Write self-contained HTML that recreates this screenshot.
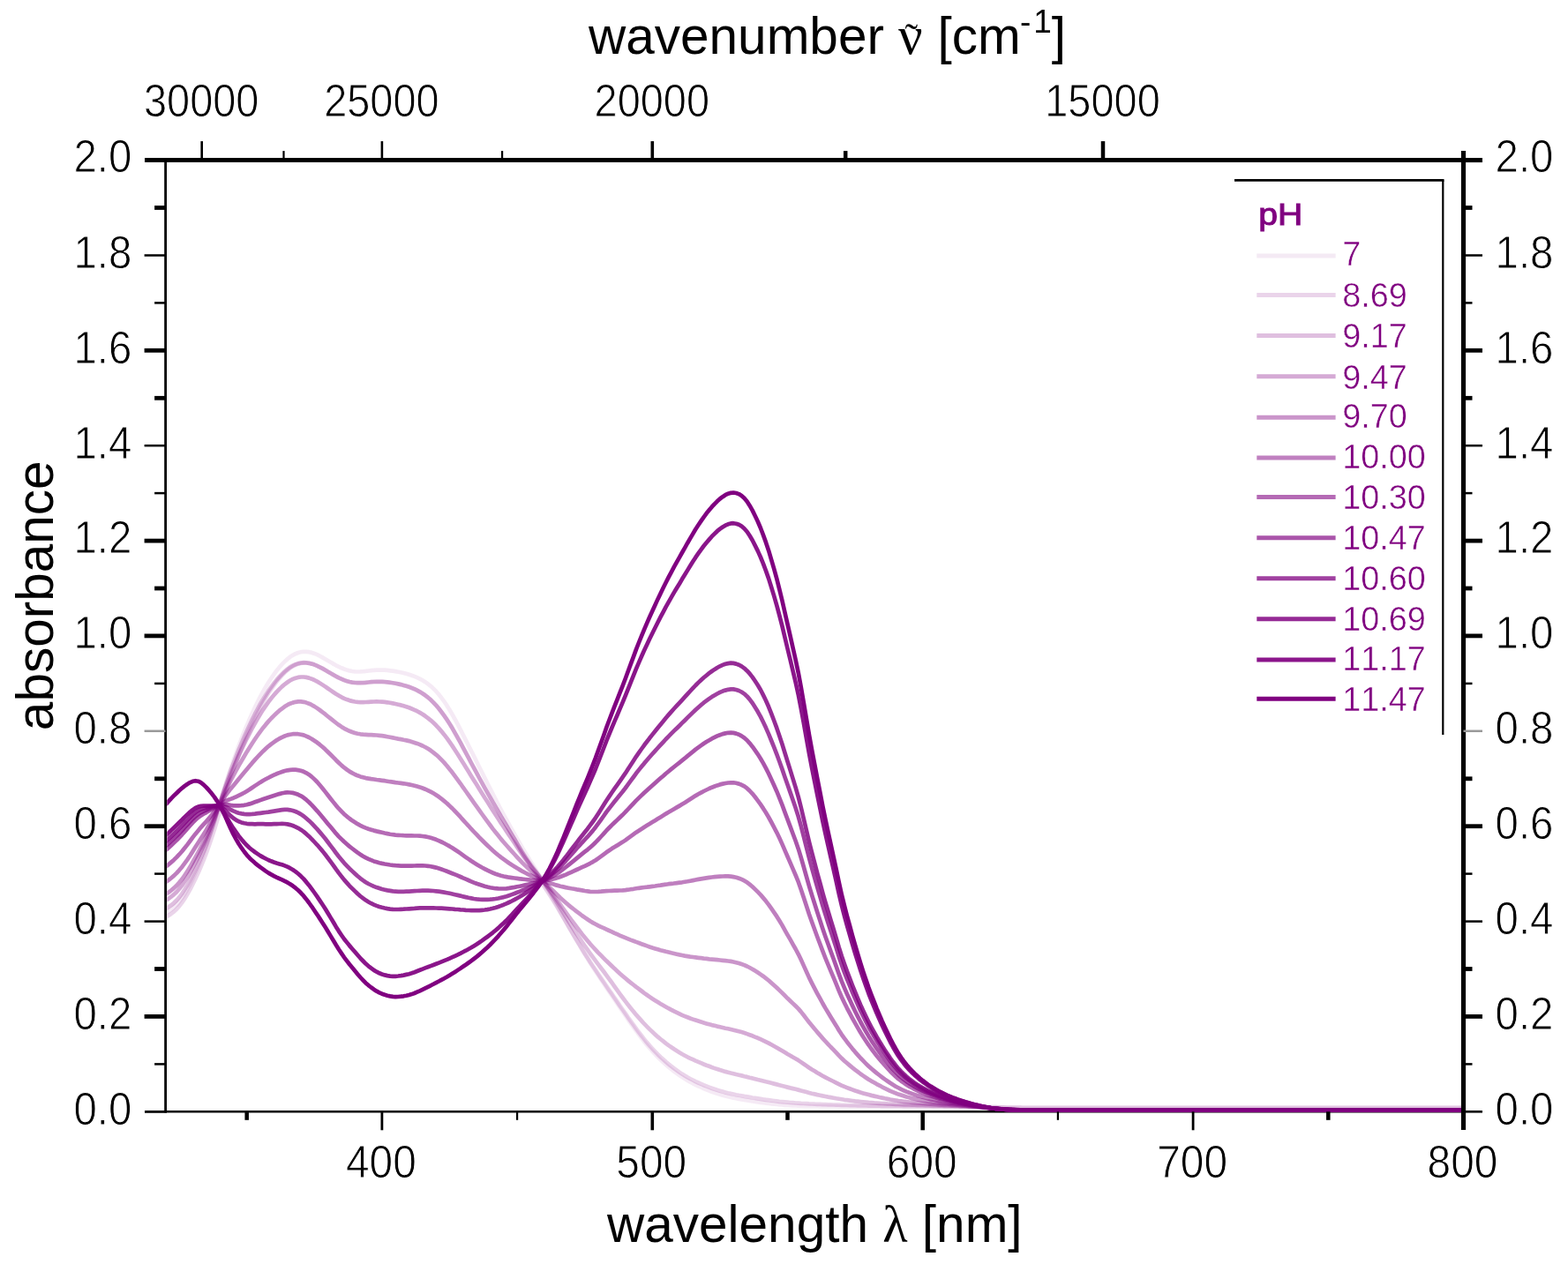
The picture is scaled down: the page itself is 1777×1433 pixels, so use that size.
<!DOCTYPE html>
<html lang="en"><head><meta charset="utf-8"><title>UV/Vis absorbance spectra vs pH</title>
<style>html,body{margin:0;padding:0;background:#fff}body{width:1777px;height:1433px;overflow:hidden}svg{display:block}text{font-family:"Liberation Sans",sans-serif;fill:#000;font-kerning:none}.tk{font-size:47.4px;stroke:#fff;stroke-width:0.8px}.ti{font-size:58.5px}.lg{font-size:37.8px;fill:#800080;stroke:#fff;stroke-width:0.5px}.sf{font-family:"Liberation Serif",serif}</style></head><body>
<svg width="1777" height="1433" viewBox="0 0 1777 1433">
<rect width="1777" height="1433" fill="#fff"/>
<line x1="164" y1="1260.3" x2="1658.5" y2="1260.3" stroke="#000" stroke-width="2.6"/>
<defs><clipPath id="pc"><rect x="189.3" y="170" width="1466.7" height="1100"/></clipPath></defs>
<g fill="none" stroke="#800080" stroke-width="4.7" stroke-linejoin="round" stroke-linecap="butt" clip-path="url(#pc)">
<path stroke-opacity="0.083" d="M187.8 1035.1 L190.9 1033.4 L193.9 1031.3 L197.0 1028.8 L200.1 1025.9 L203.1 1022.4 L206.2 1018.4 L209.2 1013.7 L212.3 1008.5 L215.4 1002.8 L218.4 996.7 L221.5 990.1 L224.6 983.2 L227.6 975.9 L230.7 968.3 L233.8 960.1 L236.8 951.3 L239.9 941.9 L243.0 931.9 L246.0 921.6 L249.1 911.0 L252.1 900.6 L255.2 890.5 L258.3 880.8 L261.3 871.5 L264.4 862.6 L267.5 854.0 L270.5 845.7 L273.6 837.7 L276.7 830.0 L279.7 822.6 L282.8 815.5 L285.8 808.7 L288.9 802.1 L292.0 795.8 L295.0 789.8 L298.1 784.1 L301.2 778.8 L304.2 773.7 L307.3 769.0 L310.4 764.6 L313.4 760.5 L316.5 756.6 L319.6 753.2 L322.6 750.0 L325.7 747.2 L328.7 744.8 L331.8 742.8 L334.9 741.2 L337.9 740.0 L341.0 739.2 L344.1 738.8 L347.1 738.8 L350.2 739.2 L353.3 739.9 L356.3 740.9 L359.4 742.2 L362.4 743.7 L365.5 745.4 L368.6 747.2 L371.6 749.0 L374.7 750.8 L377.8 752.6 L380.8 754.3 L383.9 755.9 L387.0 757.3 L390.0 758.5 L393.1 759.6 L396.1 760.4 L399.2 761.0 L402.3 761.3 L405.3 761.5 L408.4 761.4 L411.5 761.2 L414.5 760.9 L417.6 760.5 L420.7 760.2 L423.7 759.9 L426.8 759.7 L429.9 759.6 L432.9 759.6 L436.0 759.7 L439.0 759.9 L442.1 760.3 L445.2 760.7 L448.2 761.1 L451.3 761.7 L454.4 762.3 L457.4 763.0 L460.5 763.8 L463.6 764.7 L466.6 765.7 L469.7 766.9 L472.7 768.2 L475.8 769.6 L478.9 771.3 L481.9 773.2 L485.0 775.4 L488.1 777.8 L491.1 780.6 L494.2 783.7 L497.3 787.2 L500.3 791.1 L503.4 795.3 L506.5 799.9 L509.5 804.8 L512.6 810.0 L515.6 815.5 L518.7 821.2 L521.8 827.1 L524.8 833.1 L527.9 839.1 L531.0 845.2 L534.0 851.3 L537.1 857.4 L540.2 863.5 L543.2 869.7 L546.3 875.8 L549.3 881.9 L552.4 888.0 L555.5 894.1 L558.5 900.1 L561.6 906.1 L564.7 912.0 L567.7 917.8 L570.8 923.5 L573.9 929.1 L576.9 934.6 L580.0 940.1 L583.1 945.6 L586.1 951.0 L589.2 956.3 L592.2 961.6 L595.3 966.8 L598.4 971.8 L601.4 976.7 L604.5 981.6 L607.6 986.4 L610.6 991.2 L613.7 996.1 L616.8 1001.1 L619.8 1006.2 L622.9 1011.4 L625.9 1016.8 L629.0 1022.3 L632.1 1027.8 L635.1 1033.4 L638.2 1039.0 L641.3 1044.6 L644.3 1050.1 L647.4 1055.6 L650.5 1061.0 L653.5 1066.4 L656.6 1071.6 L659.6 1076.8 L662.7 1081.8 L665.8 1086.8 L668.8 1091.7 L671.9 1096.5 L675.0 1101.2 L678.0 1105.8 L681.1 1110.4 L684.2 1115.0 L687.2 1119.6 L690.3 1124.1 L693.4 1128.6 L696.4 1133.2 L699.5 1137.7 L702.5 1142.2 L705.6 1146.7 L708.7 1151.2 L711.7 1155.6 L714.8 1160.1 L717.9 1164.4 L720.9 1168.7 L724.0 1172.9 L727.1 1177.0 L730.1 1180.9 L733.2 1184.7 L736.2 1188.3 L739.3 1191.8 L742.4 1195.1 L745.4 1198.3 L748.5 1201.4 L751.6 1204.3 L754.6 1207.0 L757.7 1209.7 L760.8 1212.2 L763.8 1214.6 L766.9 1216.9 L770.0 1219.1 L773.0 1221.1 L776.1 1223.1 L779.1 1224.9 L782.2 1226.6 L785.3 1228.3 L788.3 1229.8 L791.4 1231.3 L794.5 1232.7 L797.5 1234.0 L800.6 1235.3 L803.7 1236.5 L806.7 1237.7 L809.8 1238.8 L812.8 1239.8 L815.9 1240.8 L819.0 1241.7 L822.0 1242.5 L825.1 1243.3 L828.2 1244.0 L831.2 1244.7 L834.3 1245.3 L837.4 1245.9 L840.4 1246.4 L843.5 1247.0 L846.6 1247.5 L849.6 1248.0 L852.7 1248.5 L855.7 1248.9 L858.8 1249.4 L861.9 1249.8 L864.9 1250.2 L868.0 1250.6 L871.1 1251.0 L874.1 1251.3 L877.2 1251.7 L880.3 1252.0 L883.3 1252.3 L886.4 1252.5 L889.4 1252.8 L892.5 1253.0 L895.6 1253.2 L898.6 1253.3 L901.7 1253.5 L904.8 1253.6 L907.8 1253.7 L910.9 1253.8 L914.0 1253.9 L917.0 1253.9 L920.1 1254.0 L923.2 1254.0 L926.2 1254.0 L929.3 1254.1 L932.3 1254.1 L935.4 1254.1 L938.5 1254.2 L941.5 1254.2 L944.6 1254.2 L947.7 1254.2 L950.7 1254.3 L953.8 1254.3 L956.9 1254.3 L959.9 1254.3 L963.0 1254.3 L966.0 1254.3 L969.1 1254.3 L972.2 1254.3 L975.2 1254.4 L978.3 1254.4 L981.4 1254.4 L984.4 1254.4 L987.5 1254.4 L990.6 1254.4 L993.6 1254.4 L996.7 1254.4 L999.7 1254.4 L1002.8 1254.4 L1005.9 1254.4 L1008.9 1254.4 L1012.0 1254.4 L1015.1 1254.4 L1018.1 1254.4 L1021.2 1254.4 L1024.3 1254.4 L1027.3 1254.4 L1030.4 1254.4 L1033.5 1254.4 L1036.5 1254.4 L1039.6 1254.4 L1042.6 1254.4 L1045.7 1254.4 L1048.8 1254.4 L1051.8 1254.4 L1054.9 1254.4 L1058.0 1254.4 L1061.0 1254.4 L1064.1 1254.4 L1067.2 1254.4 L1070.2 1254.4 L1073.3 1254.4 L1076.3 1254.4 L1079.4 1254.4 L1082.5 1254.4 L1085.5 1254.4 L1088.6 1254.5 L1091.7 1254.5 L1094.7 1254.5 L1097.8 1254.5 L1100.9 1254.6 L1103.9 1254.6 L1107.0 1254.7 L1110.1 1254.7 L1113.1 1254.8 L1116.2 1254.9 L1119.2 1255.0 L1122.3 1255.0 L1125.4 1255.1 L1128.4 1255.2 L1131.5 1255.3 L1134.6 1255.4 L1137.6 1255.4 L1140.7 1255.5 L1143.8 1255.6 L1146.8 1255.6 L1149.9 1255.7 L1152.9 1255.7 L1156.0 1255.7 L1159.1 1255.8 L1162.1 1255.8 L1165.2 1255.8 L1168.3 1255.8 L1171.3 1255.8 L1174.4 1255.8 L1177.5 1255.8 L1180.5 1255.9 L1183.6 1255.9 L1186.7 1255.9 L1189.7 1255.9 L1192.8 1255.9 L1195.8 1255.9 L1198.9 1255.9 L1202.0 1255.9 L1205.0 1255.9 L1208.1 1255.9 L1211.2 1255.9 L1214.2 1255.9 L1217.3 1255.9 L1220.4 1255.9 L1223.4 1255.9 L1226.5 1255.9 L1229.5 1255.9 L1290.8 1255.9 L1352.1 1255.9 L1413.4 1255.9 L1474.7 1255.9 L1535.9 1255.9 L1597.2 1255.9 L1658.5 1255.9"/>
<path stroke-opacity="0.167" d="M187.8 1039.7 L190.9 1038.0 L193.9 1036.0 L197.0 1033.6 L200.1 1030.7 L203.1 1027.4 L206.2 1023.4 L209.2 1019.0 L212.3 1013.9 L215.4 1008.4 L218.4 1002.4 L221.5 996.1 L224.6 989.5 L227.6 982.5 L230.7 975.1 L233.8 967.2 L236.8 958.8 L239.9 949.8 L243.0 940.2 L246.0 930.2 L249.1 920.1 L252.1 909.9 L255.2 900.1 L258.3 890.6 L261.3 881.5 L264.4 872.8 L267.5 864.4 L270.5 856.4 L273.6 848.5 L276.7 841.0 L279.7 833.8 L282.8 826.8 L285.8 820.1 L288.9 813.7 L292.0 807.5 L295.0 801.6 L298.1 796.0 L301.2 790.8 L304.2 785.8 L307.3 781.2 L310.4 776.8 L313.4 772.8 L316.5 769.1 L319.6 765.6 L322.6 762.5 L325.7 759.8 L328.7 757.4 L331.8 755.4 L334.9 753.8 L337.9 752.6 L341.0 751.9 L344.1 751.5 L347.1 751.5 L350.2 751.9 L353.3 752.6 L356.3 753.6 L359.4 754.8 L362.4 756.3 L365.5 757.9 L368.6 759.6 L371.6 761.4 L374.7 763.3 L377.8 765.0 L380.8 766.7 L383.9 768.3 L387.0 769.7 L390.0 771.0 L393.1 772.1 L396.1 773.0 L399.2 773.6 L402.3 774.0 L405.3 774.2 L408.4 774.2 L411.5 774.0 L414.5 773.8 L417.6 773.5 L420.7 773.2 L423.7 772.9 L426.8 772.8 L429.9 772.8 L432.9 772.8 L436.0 773.0 L439.0 773.3 L442.1 773.7 L445.2 774.2 L448.2 774.8 L451.3 775.4 L454.4 776.1 L457.4 776.9 L460.5 777.8 L463.6 778.8 L466.6 779.9 L469.7 781.2 L472.7 782.7 L475.8 784.3 L478.9 786.2 L481.9 788.3 L485.0 790.7 L488.1 793.3 L491.1 796.3 L494.2 799.6 L497.3 803.2 L500.3 807.1 L503.4 811.4 L506.5 815.8 L509.5 820.6 L512.6 825.6 L515.6 830.8 L518.7 836.3 L521.8 841.9 L524.8 847.6 L527.9 853.4 L531.0 859.2 L534.0 864.9 L537.1 870.7 L540.2 876.4 L543.2 882.0 L546.3 887.6 L549.3 893.1 L552.4 898.6 L555.5 904.0 L558.5 909.4 L561.6 914.8 L564.7 920.1 L567.7 925.3 L570.8 930.5 L573.9 935.7 L576.9 940.9 L580.0 946.2 L583.1 951.5 L586.1 956.7 L589.2 962.0 L592.2 967.1 L595.3 972.2 L598.4 977.2 L601.4 982.0 L604.5 986.7 L607.6 991.3 L610.6 995.9 L613.7 1000.5 L616.8 1005.0 L619.8 1009.7 L622.9 1014.5 L625.9 1019.3 L629.0 1024.3 L632.1 1029.4 L635.1 1034.6 L638.2 1039.8 L641.3 1045.0 L644.3 1050.3 L647.4 1055.5 L650.5 1060.7 L653.5 1065.8 L656.6 1070.9 L659.6 1075.9 L662.7 1080.9 L665.8 1085.7 L668.8 1090.5 L671.9 1095.2 L675.0 1099.8 L678.0 1104.3 L681.1 1108.9 L684.2 1113.3 L687.2 1117.8 L690.3 1122.3 L693.4 1126.7 L696.4 1131.2 L699.5 1135.6 L702.5 1140.1 L705.6 1144.5 L708.7 1148.9 L711.7 1153.3 L714.8 1157.6 L717.9 1161.9 L720.9 1166.1 L724.0 1170.3 L727.1 1174.3 L730.1 1178.1 L733.2 1181.9 L736.2 1185.4 L739.3 1188.8 L742.4 1192.1 L745.4 1195.2 L748.5 1198.2 L751.6 1201.0 L754.6 1203.8 L757.7 1206.4 L760.8 1208.8 L763.8 1211.2 L766.9 1213.4 L770.0 1215.6 L773.0 1217.6 L776.1 1219.5 L779.1 1221.3 L782.2 1223.0 L785.3 1224.5 L788.3 1226.1 L791.4 1227.5 L794.5 1228.9 L797.5 1230.2 L800.6 1231.4 L803.7 1232.6 L806.7 1233.7 L809.8 1234.8 L812.8 1235.8 L815.9 1236.7 L819.0 1237.6 L822.0 1238.4 L825.1 1239.2 L828.2 1239.9 L831.2 1240.5 L834.3 1241.2 L837.4 1241.8 L840.4 1242.3 L843.5 1242.9 L846.6 1243.4 L849.6 1243.9 L852.7 1244.5 L855.7 1244.9 L858.8 1245.4 L861.9 1245.9 L864.9 1246.4 L868.0 1246.8 L871.1 1247.2 L874.1 1247.6 L877.2 1248.0 L880.3 1248.4 L883.3 1248.8 L886.4 1249.1 L889.4 1249.4 L892.5 1249.7 L895.6 1250.0 L898.6 1250.2 L901.7 1250.5 L904.8 1250.7 L907.8 1250.9 L910.9 1251.0 L914.0 1251.2 L917.0 1251.4 L920.1 1251.5 L923.2 1251.7 L926.2 1251.8 L929.3 1251.9 L932.3 1252.1 L935.4 1252.2 L938.5 1252.3 L941.5 1252.4 L944.6 1252.5 L947.7 1252.6 L950.7 1252.7 L953.8 1252.8 L956.9 1252.9 L959.9 1253.0 L963.0 1253.1 L966.0 1253.2 L969.1 1253.2 L972.2 1253.3 L975.2 1253.4 L978.3 1253.4 L981.4 1253.5 L984.4 1253.6 L987.5 1253.6 L990.6 1253.7 L993.6 1253.7 L996.7 1253.7 L999.7 1253.8 L1002.8 1253.8 L1005.9 1253.9 L1008.9 1253.9 L1012.0 1253.9 L1015.1 1254.0 L1018.1 1254.0 L1021.2 1254.0 L1024.3 1254.1 L1027.3 1254.1 L1030.4 1254.1 L1033.5 1254.1 L1036.5 1254.1 L1039.6 1254.2 L1042.6 1254.2 L1045.7 1254.2 L1048.8 1254.2 L1051.8 1254.2 L1054.9 1254.2 L1058.0 1254.3 L1061.0 1254.3 L1064.1 1254.3 L1067.2 1254.3 L1070.2 1254.3 L1073.3 1254.3 L1076.3 1254.3 L1079.4 1254.4 L1082.5 1254.4 L1085.5 1254.4 L1088.6 1254.4 L1091.7 1254.5 L1094.7 1254.5 L1097.8 1254.5 L1100.9 1254.6 L1103.9 1254.6 L1107.0 1254.7 L1110.1 1254.7 L1113.1 1254.8 L1116.2 1254.9 L1119.2 1255.0 L1122.3 1255.0 L1125.4 1255.1 L1128.4 1255.2 L1131.5 1255.3 L1134.6 1255.4 L1137.6 1255.4 L1140.7 1255.5 L1143.8 1255.6 L1146.8 1255.6 L1149.9 1255.7 L1152.9 1255.7 L1156.0 1255.7 L1159.1 1255.8 L1162.1 1255.8 L1165.2 1255.8 L1168.3 1255.8 L1171.3 1255.8 L1174.4 1255.8 L1177.5 1255.8 L1180.5 1255.9 L1183.6 1255.9 L1186.7 1255.9 L1189.7 1255.9 L1192.8 1255.9 L1195.8 1255.9 L1198.9 1255.9 L1202.0 1255.9 L1205.0 1255.9 L1208.1 1255.9 L1211.2 1255.9 L1214.2 1255.9 L1217.3 1255.9 L1220.4 1255.9 L1223.4 1255.9 L1226.5 1255.9 L1229.5 1255.9 L1290.8 1255.9 L1352.1 1255.9 L1413.4 1255.9 L1474.7 1255.9 L1535.9 1255.9 L1597.2 1255.9 L1658.5 1255.9"/>
<path stroke-opacity="0.250" d="M187.8 1030.2 L190.9 1028.4 L193.9 1026.3 L197.0 1023.8 L200.1 1020.8 L203.1 1017.4 L206.2 1013.4 L209.2 1008.8 L212.3 1003.8 L215.4 998.2 L218.4 992.2 L221.5 985.9 L224.6 979.3 L227.6 972.4 L230.7 965.1 L233.8 957.4 L236.8 949.1 L239.9 940.2 L243.0 930.8 L246.0 921.0 L249.1 911.1 L252.1 901.4 L255.2 891.9 L258.3 882.9 L261.3 874.3 L264.4 866.0 L267.5 858.0 L270.5 850.3 L273.6 842.9 L276.7 835.7 L279.7 828.9 L282.8 822.2 L285.8 815.9 L288.9 809.7 L292.0 803.9 L295.0 798.2 L298.1 792.9 L301.2 787.9 L304.2 783.2 L307.3 778.8 L310.4 774.7 L313.4 770.9 L316.5 767.4 L319.6 764.1 L322.6 761.2 L325.7 758.6 L328.7 756.4 L331.8 754.6 L334.9 753.2 L337.9 752.1 L341.0 751.5 L344.1 751.2 L347.1 751.4 L350.2 751.8 L353.3 752.6 L356.3 753.6 L359.4 754.9 L362.4 756.3 L365.5 757.9 L368.6 759.7 L371.6 761.5 L374.7 763.3 L377.8 765.1 L380.8 766.8 L383.9 768.4 L387.0 769.8 L390.0 771.1 L393.1 772.2 L396.1 773.0 L399.2 773.6 L402.3 774.0 L405.3 774.2 L408.4 774.2 L411.5 774.1 L414.5 773.8 L417.6 773.5 L420.7 773.2 L423.7 773.0 L426.8 772.9 L429.9 772.8 L432.9 772.9 L436.0 773.1 L439.0 773.4 L442.1 773.8 L445.2 774.3 L448.2 774.8 L451.3 775.4 L454.4 776.1 L457.4 776.9 L460.5 777.8 L463.6 778.8 L466.6 780.0 L469.7 781.2 L472.7 782.7 L475.8 784.3 L478.9 786.2 L481.9 788.3 L485.0 790.7 L488.1 793.3 L491.1 796.3 L494.2 799.6 L497.3 803.3 L500.3 807.2 L503.4 811.4 L506.5 815.9 L509.5 820.6 L512.6 825.6 L515.6 830.8 L518.7 836.3 L521.8 841.9 L524.8 847.6 L527.9 853.4 L531.0 859.2 L534.0 865.0 L537.1 870.7 L540.2 876.4 L543.2 882.0 L546.3 887.6 L549.3 893.1 L552.4 898.6 L555.5 904.1 L558.5 909.5 L561.6 914.8 L564.7 920.1 L567.7 925.4 L570.8 930.6 L573.9 935.8 L576.9 940.9 L580.0 946.1 L583.1 951.3 L586.1 956.5 L589.2 961.6 L592.2 966.6 L595.3 971.3 L598.4 975.9 L601.4 980.2 L604.5 984.4 L607.6 988.5 L610.6 992.6 L613.7 996.8 L616.8 1001.1 L619.8 1005.6 L622.9 1010.2 L625.9 1014.9 L629.0 1019.8 L632.1 1024.7 L635.1 1029.6 L638.2 1034.6 L641.3 1039.5 L644.3 1044.4 L647.4 1049.2 L650.5 1054.0 L653.5 1058.7 L656.6 1063.3 L659.6 1067.9 L662.7 1072.3 L665.8 1076.7 L668.8 1081.0 L671.9 1085.2 L675.0 1089.3 L678.0 1093.4 L681.1 1097.5 L684.2 1101.5 L687.2 1105.6 L690.3 1109.8 L693.4 1114.0 L696.4 1118.3 L699.5 1122.6 L702.5 1126.8 L705.6 1131.0 L708.7 1135.1 L711.7 1139.1 L714.8 1142.9 L717.9 1146.7 L720.9 1150.4 L724.0 1153.9 L727.1 1157.3 L730.1 1160.7 L733.2 1163.8 L736.2 1166.9 L739.3 1169.8 L742.4 1172.7 L745.4 1175.4 L748.5 1178.0 L751.6 1180.4 L754.6 1182.8 L757.7 1185.1 L760.8 1187.2 L763.8 1189.3 L766.9 1191.3 L770.0 1193.2 L773.0 1195.0 L776.1 1196.7 L779.1 1198.3 L782.2 1199.8 L785.3 1201.2 L788.3 1202.6 L791.4 1203.9 L794.5 1205.2 L797.5 1206.5 L800.6 1207.7 L803.7 1208.8 L806.7 1210.0 L809.8 1211.1 L812.8 1212.1 L815.9 1213.1 L819.0 1214.0 L822.0 1214.9 L825.1 1215.7 L828.2 1216.5 L831.2 1217.2 L834.3 1218.0 L837.4 1218.7 L840.4 1219.4 L843.5 1220.2 L846.6 1220.9 L849.6 1221.7 L852.7 1222.4 L855.7 1223.2 L858.8 1224.0 L861.9 1224.7 L864.9 1225.5 L868.0 1226.3 L871.1 1227.0 L874.1 1227.8 L877.2 1228.6 L880.3 1229.4 L883.3 1230.2 L886.4 1231.0 L889.4 1231.8 L892.5 1232.6 L895.6 1233.4 L898.6 1234.1 L901.7 1234.8 L904.8 1235.6 L907.8 1236.4 L910.9 1237.2 L914.0 1238.1 L917.0 1238.9 L920.1 1239.7 L923.2 1240.4 L926.2 1241.1 L929.3 1241.7 L932.3 1242.4 L935.4 1243.0 L938.5 1243.6 L941.5 1244.1 L944.6 1244.7 L947.7 1245.3 L950.7 1245.8 L953.8 1246.3 L956.9 1246.8 L959.9 1247.2 L963.0 1247.6 L966.0 1248.0 L969.1 1248.4 L972.2 1248.7 L975.2 1249.0 L978.3 1249.3 L981.4 1249.6 L984.4 1249.9 L987.5 1250.1 L990.6 1250.4 L993.6 1250.6 L996.7 1250.8 L999.7 1251.0 L1002.8 1251.2 L1005.9 1251.4 L1008.9 1251.5 L1012.0 1251.7 L1015.1 1251.9 L1018.1 1252.0 L1021.2 1252.2 L1024.3 1252.3 L1027.3 1252.4 L1030.4 1252.5 L1033.5 1252.6 L1036.5 1252.7 L1039.6 1252.8 L1042.6 1252.9 L1045.7 1253.0 L1048.8 1253.1 L1051.8 1253.2 L1054.9 1253.3 L1058.0 1253.4 L1061.0 1253.5 L1064.1 1253.6 L1067.2 1253.7 L1070.2 1253.8 L1073.3 1253.9 L1076.3 1253.9 L1079.4 1254.0 L1082.5 1254.1 L1085.5 1254.2 L1088.6 1254.3 L1091.7 1254.4 L1094.7 1254.5 L1097.8 1254.7 L1100.9 1254.8 L1103.9 1255.0 L1107.0 1255.2 L1110.1 1255.3 L1113.1 1255.6 L1116.2 1255.8 L1119.2 1256.0 L1122.3 1256.3 L1125.4 1256.5 L1128.4 1256.8 L1131.5 1257.0 L1134.6 1257.2 L1137.6 1257.4 L1140.7 1257.6 L1143.8 1257.8 L1146.8 1257.9 L1149.9 1258.1 L1152.9 1258.2 L1156.0 1258.3 L1159.1 1258.3 L1162.1 1258.4 L1165.2 1258.5 L1168.3 1258.5 L1171.3 1258.5 L1174.4 1258.6 L1177.5 1258.6 L1180.5 1258.6 L1183.6 1258.6 L1186.7 1258.6 L1189.7 1258.6 L1192.8 1258.7 L1195.8 1258.7 L1198.9 1258.7 L1202.0 1258.7 L1205.0 1258.7 L1208.1 1258.7 L1211.2 1258.7 L1214.2 1258.7 L1217.3 1258.7 L1220.4 1258.7 L1223.4 1258.7 L1226.5 1258.7 L1229.5 1258.7 L1290.8 1258.7 L1352.1 1258.7 L1413.4 1258.7 L1474.7 1258.7 L1535.9 1258.7 L1597.2 1258.7 L1658.5 1258.7"/>
<path stroke-opacity="0.333" d="M187.8 1020.8 L190.9 1018.9 L193.9 1016.7 L197.0 1014.1 L200.1 1011.2 L203.1 1007.8 L206.2 1003.9 L209.2 999.5 L212.3 994.7 L215.4 989.4 L218.4 983.8 L221.5 977.9 L224.6 971.9 L227.6 965.6 L230.7 959.1 L233.8 952.2 L236.8 944.9 L239.9 937.0 L243.0 928.6 L246.0 920.0 L249.1 911.3 L252.1 902.4 L255.2 894.0 L258.3 885.9 L261.3 878.2 L264.4 870.8 L267.5 863.6 L270.5 856.7 L273.6 850.0 L276.7 843.6 L279.7 837.3 L282.8 831.3 L285.8 825.5 L288.9 820.0 L292.0 814.6 L295.0 809.5 L298.1 804.6 L301.2 800.1 L304.2 795.8 L307.3 791.8 L310.4 788.1 L313.4 784.6 L316.5 781.4 L319.6 778.4 L322.6 775.8 L325.7 773.5 L328.7 771.5 L331.8 769.9 L334.9 768.7 L337.9 767.9 L341.0 767.5 L344.1 767.5 L347.1 767.9 L350.2 768.6 L353.3 769.7 L356.3 771.0 L359.4 772.6 L362.4 774.4 L365.5 776.4 L368.6 778.4 L371.6 780.5 L374.7 782.6 L377.8 784.7 L380.8 786.7 L383.9 788.6 L387.0 790.3 L390.0 791.8 L393.1 793.1 L396.1 794.1 L399.2 794.9 L402.3 795.5 L405.3 795.9 L408.4 796.1 L411.5 796.1 L414.5 796.0 L417.6 795.8 L420.7 795.6 L423.7 795.5 L426.8 795.4 L429.9 795.5 L432.9 795.6 L436.0 795.9 L439.0 796.3 L442.1 796.8 L445.2 797.4 L448.2 798.0 L451.3 798.7 L454.4 799.4 L457.4 800.3 L460.5 801.2 L463.6 802.3 L466.6 803.5 L469.7 804.8 L472.7 806.2 L475.8 807.9 L478.9 809.7 L481.9 811.8 L485.0 814.1 L488.1 816.6 L491.1 819.3 L494.2 822.3 L497.3 825.6 L500.3 829.1 L503.4 832.9 L506.5 836.9 L509.5 841.1 L512.6 845.6 L515.6 850.2 L518.7 855.0 L521.8 859.9 L524.8 864.8 L527.9 869.8 L531.0 874.8 L534.0 879.7 L537.1 884.7 L540.2 889.6 L543.2 894.5 L546.3 899.4 L549.3 904.3 L552.4 909.1 L555.5 914.0 L558.5 918.8 L561.6 923.6 L564.7 928.3 L567.7 932.9 L570.8 937.5 L573.9 942.1 L576.9 946.6 L580.0 951.2 L583.1 955.8 L586.1 960.4 L589.2 964.9 L592.2 969.3 L595.3 973.6 L598.4 977.7 L601.4 981.7 L604.5 985.5 L607.6 989.3 L610.6 993.0 L613.7 996.9 L616.8 1000.7 L619.8 1004.7 L622.9 1008.7 L625.9 1012.9 L629.0 1017.1 L632.1 1021.4 L635.1 1025.7 L638.2 1030.0 L641.3 1034.3 L644.3 1038.6 L647.4 1042.8 L650.5 1047.0 L653.5 1051.0 L656.6 1055.0 L659.6 1058.9 L662.7 1062.7 L665.8 1066.5 L668.8 1070.1 L671.9 1073.5 L675.0 1076.9 L678.0 1080.1 L681.1 1083.2 L684.2 1086.3 L687.2 1089.3 L690.3 1092.2 L693.4 1095.2 L696.4 1098.1 L699.5 1100.9 L702.5 1103.7 L705.6 1106.4 L708.7 1109.1 L711.7 1111.6 L714.8 1114.1 L717.9 1116.5 L720.9 1118.9 L724.0 1121.2 L727.1 1123.5 L730.1 1125.8 L733.2 1128.0 L736.2 1130.1 L739.3 1132.2 L742.4 1134.2 L745.4 1136.1 L748.5 1138.0 L751.6 1139.8 L754.6 1141.5 L757.7 1143.2 L760.8 1144.8 L763.8 1146.4 L766.9 1147.9 L770.0 1149.4 L773.0 1150.8 L776.1 1152.1 L779.1 1153.3 L782.2 1154.5 L785.3 1155.6 L788.3 1156.6 L791.4 1157.6 L794.5 1158.6 L797.5 1159.5 L800.6 1160.4 L803.7 1161.3 L806.7 1162.1 L809.8 1162.8 L812.8 1163.6 L815.9 1164.3 L819.0 1165.0 L822.0 1165.7 L825.1 1166.3 L828.2 1167.0 L831.2 1167.7 L834.3 1168.5 L837.4 1169.3 L840.4 1170.1 L843.5 1171.0 L846.6 1172.1 L849.6 1173.2 L852.7 1174.3 L855.7 1175.6 L858.8 1176.8 L861.9 1178.2 L864.9 1179.6 L868.0 1181.1 L871.1 1182.6 L874.1 1184.3 L877.2 1186.0 L880.3 1187.7 L883.3 1189.5 L886.4 1191.3 L889.4 1193.1 L892.5 1195.0 L895.6 1196.7 L898.6 1198.5 L901.7 1200.2 L904.8 1202.1 L907.8 1204.1 L910.9 1206.2 L914.0 1208.4 L917.0 1210.5 L920.1 1212.5 L923.2 1214.3 L926.2 1216.2 L929.3 1217.9 L932.3 1219.7 L935.4 1221.4 L938.5 1223.0 L941.5 1224.5 L944.6 1226.0 L947.7 1227.6 L950.7 1229.1 L953.8 1230.6 L956.9 1231.9 L959.9 1233.1 L963.0 1234.3 L966.0 1235.4 L969.1 1236.5 L972.2 1237.5 L975.2 1238.5 L978.3 1239.4 L981.4 1240.3 L984.4 1241.1 L987.5 1241.9 L990.6 1242.6 L993.6 1243.3 L996.7 1244.0 L999.7 1244.6 L1002.8 1245.3 L1005.9 1245.9 L1008.9 1246.5 L1012.0 1247.0 L1015.1 1247.5 L1018.1 1248.0 L1021.2 1248.4 L1024.3 1248.8 L1027.3 1249.2 L1030.4 1249.5 L1033.5 1249.8 L1036.5 1250.1 L1039.6 1250.4 L1042.6 1250.7 L1045.7 1251.0 L1048.8 1251.2 L1051.8 1251.5 L1054.9 1251.7 L1058.0 1252.0 L1061.0 1252.2 L1064.1 1252.4 L1067.2 1252.6 L1070.2 1252.8 L1073.3 1253.0 L1076.3 1253.1 L1079.4 1253.3 L1082.5 1253.5 L1085.5 1253.6 L1088.6 1253.8 L1091.7 1254.0 L1094.7 1254.2 L1097.8 1254.3 L1100.9 1254.5 L1103.9 1254.8 L1107.0 1255.0 L1110.1 1255.2 L1113.1 1255.5 L1116.2 1255.7 L1119.2 1256.0 L1122.3 1256.2 L1125.4 1256.5 L1128.4 1256.8 L1131.5 1257.0 L1134.6 1257.2 L1137.6 1257.5 L1140.7 1257.7 L1143.8 1257.8 L1146.8 1258.0 L1149.9 1258.1 L1152.9 1258.2 L1156.0 1258.3 L1159.1 1258.4 L1162.1 1258.4 L1165.2 1258.5 L1168.3 1258.5 L1171.3 1258.5 L1174.4 1258.6 L1177.5 1258.6 L1180.5 1258.6 L1183.6 1258.6 L1186.7 1258.6 L1189.7 1258.6 L1192.8 1258.7 L1195.8 1258.7 L1198.9 1258.7 L1202.0 1258.7 L1205.0 1258.7 L1208.1 1258.7 L1211.2 1258.7 L1214.2 1258.7 L1217.3 1258.7 L1220.4 1258.7 L1223.4 1258.7 L1226.5 1258.7 L1229.5 1258.7 L1290.8 1258.7 L1352.1 1258.7 L1413.4 1258.7 L1474.7 1258.7 L1535.9 1258.7 L1597.2 1258.7 L1658.5 1258.7"/>
<path stroke-opacity="0.417" d="M187.8 1013.8 L190.9 1011.8 L193.9 1009.5 L197.0 1006.9 L200.1 1004.0 L203.1 1000.6 L206.2 996.8 L209.2 992.5 L212.3 987.9 L215.4 982.8 L218.4 977.5 L221.5 972.0 L224.6 966.3 L227.6 960.6 L230.7 954.7 L233.8 948.4 L236.8 941.7 L239.9 934.6 L243.0 927.0 L246.0 919.2 L249.1 911.5 L252.1 904.4 L255.2 897.6 L258.3 891.2 L261.3 885.2 L264.4 879.4 L267.5 873.7 L270.5 868.1 L273.6 862.8 L276.7 857.5 L279.7 852.4 L282.8 847.5 L285.8 842.7 L288.9 838.0 L292.0 833.5 L295.0 829.3 L298.1 825.2 L301.2 821.4 L304.2 817.9 L307.3 814.5 L310.4 811.4 L313.4 808.5 L316.5 805.7 L319.6 803.3 L322.6 801.1 L325.7 799.2 L328.7 797.7 L331.8 796.6 L334.9 795.8 L337.9 795.4 L341.0 795.4 L344.1 795.8 L347.1 796.6 L350.2 797.7 L353.3 799.2 L356.3 800.9 L359.4 802.9 L362.4 805.0 L365.5 807.3 L368.6 809.7 L371.6 812.2 L374.7 814.7 L377.8 817.2 L380.8 819.5 L383.9 821.8 L387.0 823.9 L390.0 825.8 L393.1 827.4 L396.1 828.8 L399.2 830.0 L402.3 831.0 L405.3 831.7 L408.4 832.3 L411.5 832.7 L414.5 832.9 L417.6 833.1 L420.7 833.2 L423.7 833.3 L426.8 833.5 L429.9 833.8 L432.9 834.2 L436.0 834.6 L439.0 835.2 L442.1 835.8 L445.2 836.4 L448.2 837.0 L451.3 837.6 L454.4 838.1 L457.4 838.8 L460.5 839.4 L463.6 840.1 L466.6 841.0 L469.7 841.9 L472.7 842.9 L475.8 844.1 L478.9 845.5 L481.9 847.0 L485.0 848.8 L488.1 850.8 L491.1 853.1 L494.2 855.6 L497.3 858.3 L500.3 861.4 L503.4 864.6 L506.5 868.2 L509.5 871.9 L512.6 875.8 L515.6 879.9 L518.7 884.1 L521.8 888.3 L524.8 892.7 L527.9 897.0 L531.0 901.4 L534.0 905.7 L537.1 910.1 L540.2 914.4 L543.2 918.7 L546.3 923.0 L549.3 927.2 L552.4 931.4 L555.5 935.5 L558.5 939.6 L561.6 943.5 L564.7 947.3 L567.7 951.1 L570.8 954.7 L573.9 958.2 L576.9 961.6 L580.0 965.1 L583.1 968.5 L586.1 971.8 L589.2 975.1 L592.2 978.3 L595.3 981.4 L598.4 984.3 L601.4 987.0 L604.5 989.7 L607.6 992.3 L610.6 995.0 L613.7 997.8 L616.8 1000.5 L619.8 1003.2 L622.9 1006.1 L625.9 1009.0 L629.0 1012.0 L632.1 1015.0 L635.1 1017.9 L638.2 1020.7 L641.3 1023.4 L644.3 1026.1 L647.4 1028.6 L650.5 1031.0 L653.5 1033.4 L656.6 1035.7 L659.6 1038.0 L662.7 1040.2 L665.8 1042.3 L668.8 1044.3 L671.9 1046.1 L675.0 1047.8 L678.0 1049.4 L681.1 1050.9 L684.2 1052.2 L687.2 1053.6 L690.3 1055.0 L693.4 1056.3 L696.4 1057.8 L699.5 1059.2 L702.5 1060.6 L705.6 1061.9 L708.7 1063.2 L711.7 1064.4 L714.8 1065.6 L717.9 1066.7 L720.9 1067.9 L724.0 1069.0 L727.1 1070.2 L730.1 1071.3 L733.2 1072.4 L736.2 1073.5 L739.3 1074.5 L742.4 1075.4 L745.4 1076.3 L748.5 1077.2 L751.6 1078.0 L754.6 1078.8 L757.7 1079.5 L760.8 1080.3 L763.8 1081.0 L766.9 1081.7 L770.0 1082.4 L773.0 1083.0 L776.1 1083.6 L779.1 1084.1 L782.2 1084.6 L785.3 1085.0 L788.3 1085.4 L791.4 1085.8 L794.5 1086.2 L797.5 1086.6 L800.6 1086.9 L803.7 1087.3 L806.7 1087.6 L809.8 1087.9 L812.8 1088.2 L815.9 1088.5 L819.0 1088.8 L822.0 1089.1 L825.1 1089.5 L828.2 1089.9 L831.2 1090.5 L834.3 1091.2 L837.4 1092.0 L840.4 1093.0 L843.5 1094.1 L846.6 1095.5 L849.6 1097.0 L852.7 1098.7 L855.7 1100.6 L858.8 1102.5 L861.9 1104.6 L864.9 1106.7 L868.0 1109.1 L871.1 1111.5 L874.1 1114.2 L877.2 1116.9 L880.3 1119.7 L883.3 1122.6 L886.4 1125.6 L889.4 1128.7 L892.5 1131.8 L895.6 1134.7 L898.6 1137.6 L901.7 1140.5 L904.8 1143.6 L907.8 1147.1 L910.9 1151.0 L914.0 1155.1 L917.0 1159.0 L920.1 1162.8 L923.2 1166.5 L926.2 1170.1 L929.3 1173.6 L932.3 1177.1 L935.4 1180.5 L938.5 1183.8 L941.5 1187.0 L944.6 1190.1 L947.7 1193.4 L950.7 1196.7 L953.8 1199.8 L956.9 1202.7 L959.9 1205.3 L963.0 1207.9 L966.0 1210.4 L969.1 1212.8 L972.2 1215.2 L975.2 1217.5 L978.3 1219.6 L981.4 1221.7 L984.4 1223.7 L987.5 1225.6 L990.6 1227.3 L993.6 1229.1 L996.7 1230.7 L999.7 1232.3 L1002.8 1233.8 L1005.9 1235.3 L1008.9 1236.8 L1012.0 1238.1 L1015.1 1239.4 L1018.1 1240.6 L1021.2 1241.6 L1024.3 1242.6 L1027.3 1243.5 L1030.4 1244.3 L1033.5 1245.1 L1036.5 1245.8 L1039.6 1246.4 L1042.6 1247.0 L1045.7 1247.6 L1048.8 1248.2 L1051.8 1248.7 L1054.9 1249.1 L1058.0 1249.6 L1061.0 1250.0 L1064.1 1250.4 L1067.2 1250.8 L1070.2 1251.1 L1073.3 1251.5 L1076.3 1251.8 L1079.4 1252.1 L1082.5 1252.4 L1085.5 1252.7 L1088.6 1253.0 L1091.7 1253.3 L1094.7 1253.5 L1097.8 1253.8 L1100.9 1254.1 L1103.9 1254.4 L1107.0 1254.7 L1110.1 1255.0 L1113.1 1255.3 L1116.2 1255.6 L1119.2 1255.9 L1122.3 1256.2 L1125.4 1256.5 L1128.4 1256.8 L1131.5 1257.0 L1134.6 1257.3 L1137.6 1257.5 L1140.7 1257.7 L1143.8 1257.9 L1146.8 1258.0 L1149.9 1258.1 L1152.9 1258.2 L1156.0 1258.3 L1159.1 1258.4 L1162.1 1258.4 L1165.2 1258.5 L1168.3 1258.5 L1171.3 1258.6 L1174.4 1258.6 L1177.5 1258.6 L1180.5 1258.6 L1183.6 1258.6 L1186.7 1258.6 L1189.7 1258.6 L1192.8 1258.7 L1195.8 1258.7 L1198.9 1258.7 L1202.0 1258.7 L1205.0 1258.7 L1208.1 1258.7 L1211.2 1258.7 L1214.2 1258.7 L1217.3 1258.7 L1220.4 1258.7 L1223.4 1258.7 L1226.5 1258.7 L1229.5 1258.7 L1290.8 1258.7 L1352.1 1258.7 L1413.4 1258.7 L1474.7 1258.7 L1535.9 1258.7 L1597.2 1258.7 L1658.5 1258.7"/>
<path stroke-opacity="0.500" d="M187.8 1000.1 L190.9 997.9 L193.9 995.5 L197.0 992.9 L200.1 989.9 L203.1 986.6 L206.2 982.9 L209.2 978.9 L212.3 974.6 L215.4 970.0 L218.4 965.2 L221.5 960.3 L224.6 955.5 L227.6 950.7 L230.7 945.9 L233.8 940.9 L236.8 935.6 L239.9 929.9 L243.0 923.9 L246.0 917.7 L249.1 911.8 L252.1 906.9 L255.2 902.4 L258.3 898.3 L261.3 894.4 L264.4 890.7 L267.5 886.9 L270.5 883.2 L273.6 879.5 L276.7 875.8 L279.7 872.2 L282.8 868.5 L285.8 864.9 L288.9 861.4 L292.0 858.0 L295.0 854.8 L298.1 851.7 L301.2 848.8 L304.2 846.1 L307.3 843.6 L310.4 841.4 L313.4 839.3 L316.5 837.4 L319.6 835.8 L322.6 834.5 L325.7 833.4 L328.7 832.7 L331.8 832.2 L334.9 832.1 L337.9 832.2 L341.0 832.7 L344.1 833.4 L347.1 834.6 L350.2 836.0 L353.3 837.7 L356.3 839.7 L359.4 841.8 L362.4 844.2 L365.5 846.8 L368.6 849.6 L371.6 852.5 L374.7 855.5 L377.8 858.6 L380.8 861.7 L383.9 864.7 L387.0 867.6 L390.0 870.2 L393.1 872.5 L396.1 874.6 L399.2 876.4 L402.3 878.0 L405.3 879.3 L408.4 880.4 L411.5 881.3 L414.5 882.1 L417.6 882.6 L420.7 883.1 L423.7 883.5 L426.8 884.0 L429.9 884.4 L432.9 884.8 L436.0 885.2 L439.0 885.7 L442.1 886.2 L445.2 886.6 L448.2 887.1 L451.3 887.5 L454.4 887.9 L457.4 888.3 L460.5 888.8 L463.6 889.4 L466.6 890.0 L469.7 890.7 L472.7 891.5 L475.8 892.4 L478.9 893.5 L481.9 894.7 L485.0 896.1 L488.1 897.6 L491.1 899.3 L494.2 901.2 L497.3 903.3 L500.3 905.6 L503.4 908.1 L506.5 910.7 L509.5 913.6 L512.6 916.5 L515.6 919.7 L518.7 922.9 L521.8 926.2 L524.8 929.6 L527.9 933.0 L531.0 936.3 L534.0 939.7 L537.1 943.0 L540.2 946.2 L543.2 949.4 L546.3 952.5 L549.3 955.5 L552.4 958.5 L555.5 961.4 L558.5 964.2 L561.6 966.9 L564.7 969.5 L567.7 971.9 L570.8 974.2 L573.9 976.4 L576.9 978.5 L580.0 980.5 L583.1 982.4 L586.1 984.3 L589.2 986.1 L592.2 987.9 L595.3 989.5 L598.4 991.1 L601.4 992.5 L604.5 993.9 L607.6 995.3 L610.6 996.6 L613.7 997.9 L616.8 999.1 L619.8 1000.1 L622.9 1001.2 L625.9 1002.1 L629.0 1003.1 L632.1 1003.9 L635.1 1004.7 L638.2 1005.4 L641.3 1006.1 L644.3 1006.7 L647.4 1007.3 L650.5 1007.8 L653.5 1008.4 L656.6 1008.9 L659.6 1009.4 L662.7 1010.0 L665.8 1010.4 L668.8 1010.8 L671.9 1011.0 L675.0 1011.0 L678.0 1010.9 L681.1 1010.7 L684.2 1010.4 L687.2 1010.2 L690.3 1010.0 L693.4 1009.8 L696.4 1009.7 L699.5 1009.6 L702.5 1009.5 L705.6 1009.4 L708.7 1009.1 L711.7 1008.7 L714.8 1008.2 L717.9 1007.8 L720.9 1007.3 L724.0 1006.8 L727.1 1006.4 L730.1 1006.0 L733.2 1005.7 L736.2 1005.3 L739.3 1004.9 L742.4 1004.5 L745.4 1004.0 L748.5 1003.6 L751.6 1003.1 L754.6 1002.7 L757.7 1002.2 L760.8 1001.8 L763.8 1001.5 L766.9 1001.1 L770.0 1000.7 L773.0 1000.3 L776.1 999.8 L779.1 999.3 L782.2 998.7 L785.3 998.1 L788.3 997.5 L791.4 996.9 L794.5 996.4 L797.5 995.9 L800.6 995.4 L803.7 994.9 L806.7 994.5 L809.8 994.2 L812.8 993.9 L815.9 993.6 L819.0 993.5 L822.0 993.4 L825.1 993.4 L828.2 993.6 L831.2 994.1 L834.3 994.7 L837.4 995.7 L840.4 996.9 L843.5 998.4 L846.6 1000.3 L849.6 1002.6 L852.7 1005.2 L855.7 1008.1 L858.8 1011.2 L861.9 1014.4 L864.9 1017.9 L868.0 1021.6 L871.1 1025.6 L874.1 1029.8 L877.2 1034.3 L880.3 1038.9 L883.3 1043.8 L886.4 1048.9 L889.4 1054.3 L892.5 1059.8 L895.6 1065.2 L898.6 1070.6 L901.7 1076.0 L904.8 1081.8 L907.8 1088.1 L910.9 1094.9 L914.0 1101.8 L917.0 1108.4 L920.1 1114.6 L923.2 1120.6 L926.2 1126.3 L929.3 1131.9 L932.3 1137.5 L935.4 1142.9 L938.5 1148.0 L941.5 1152.9 L944.6 1157.9 L947.7 1162.9 L950.7 1168.0 L953.8 1172.8 L956.9 1177.2 L959.9 1181.2 L963.0 1185.1 L966.0 1188.9 L969.1 1192.6 L972.2 1196.1 L975.2 1199.5 L978.3 1202.7 L981.4 1205.8 L984.4 1208.7 L987.5 1211.5 L990.6 1214.1 L993.6 1216.6 L996.7 1219.0 L999.7 1221.3 L1002.8 1223.6 L1005.9 1225.7 L1008.9 1227.8 L1012.0 1229.8 L1015.1 1231.7 L1018.1 1233.3 L1021.2 1234.9 L1024.3 1236.3 L1027.3 1237.6 L1030.4 1238.8 L1033.5 1239.9 L1036.5 1240.9 L1039.6 1241.9 L1042.6 1242.8 L1045.7 1243.7 L1048.8 1244.6 L1051.8 1245.4 L1054.9 1246.1 L1058.0 1246.8 L1061.0 1247.5 L1064.1 1248.1 L1067.2 1248.7 L1070.2 1249.2 L1073.3 1249.8 L1076.3 1250.3 L1079.4 1250.7 L1082.5 1251.2 L1085.5 1251.6 L1088.6 1252.0 L1091.7 1252.4 L1094.7 1252.8 L1097.8 1253.2 L1100.9 1253.6 L1103.9 1254.0 L1107.0 1254.4 L1110.1 1254.7 L1113.1 1255.1 L1116.2 1255.5 L1119.2 1255.8 L1122.3 1256.2 L1125.4 1256.5 L1128.4 1256.8 L1131.5 1257.1 L1134.6 1257.3 L1137.6 1257.5 L1140.7 1257.7 L1143.8 1257.9 L1146.8 1258.0 L1149.9 1258.2 L1152.9 1258.3 L1156.0 1258.4 L1159.1 1258.4 L1162.1 1258.5 L1165.2 1258.5 L1168.3 1258.5 L1171.3 1258.6 L1174.4 1258.6 L1177.5 1258.6 L1180.5 1258.6 L1183.6 1258.6 L1186.7 1258.6 L1189.7 1258.7 L1192.8 1258.7 L1195.8 1258.7 L1198.9 1258.7 L1202.0 1258.7 L1205.0 1258.7 L1208.1 1258.7 L1211.2 1258.7 L1214.2 1258.7 L1217.3 1258.7 L1220.4 1258.7 L1223.4 1258.7 L1226.5 1258.7 L1229.5 1258.7 L1290.8 1258.7 L1352.1 1258.7 L1413.4 1258.7 L1474.7 1258.7 L1535.9 1258.7 L1597.2 1258.7 L1658.5 1258.7"/>
<path stroke-opacity="0.583" d="M187.8 982.7 L190.9 980.2 L193.9 977.6 L197.0 974.9 L200.1 971.9 L203.1 968.7 L206.2 965.2 L209.2 961.5 L212.3 957.6 L215.4 953.5 L218.4 949.4 L221.5 945.4 L224.6 941.7 L227.6 938.1 L230.7 934.7 L233.8 931.3 L236.8 927.7 L239.9 923.9 L243.0 919.9 L246.0 915.9 L249.1 912.3 L252.1 910.0 L255.2 908.3 L258.3 907.0 L261.3 905.9 L264.4 904.7 L267.5 903.3 L270.5 901.9 L273.6 900.4 L276.7 898.7 L279.7 896.9 L282.8 895.0 L285.8 893.0 L288.9 890.9 L292.0 888.9 L295.0 886.9 L298.1 885.0 L301.2 883.3 L304.2 881.7 L307.3 880.1 L310.4 878.7 L313.4 877.3 L316.5 876.1 L319.6 875.0 L322.6 874.0 L325.7 873.3 L328.7 872.9 L331.8 872.7 L334.9 872.7 L337.9 873.1 L341.0 873.7 L344.1 874.8 L347.1 876.3 L350.2 878.2 L353.3 880.6 L356.3 883.4 L359.4 886.5 L362.4 890.0 L365.5 893.7 L368.6 897.6 L371.6 901.5 L374.7 905.5 L377.8 909.4 L380.8 913.1 L383.9 916.7 L387.0 919.9 L390.0 922.9 L393.1 925.6 L396.1 928.0 L399.2 930.3 L402.3 932.3 L405.3 934.2 L408.4 935.8 L411.5 937.3 L414.5 938.6 L417.6 939.7 L420.7 940.7 L423.7 941.6 L426.8 942.4 L429.9 943.1 L432.9 943.8 L436.0 944.5 L439.0 945.1 L442.1 945.7 L445.2 946.2 L448.2 946.6 L451.3 946.8 L454.4 947.0 L457.4 947.2 L460.5 947.3 L463.6 947.4 L466.6 947.4 L469.7 947.5 L472.7 947.5 L475.8 947.7 L478.9 948.0 L481.9 948.4 L485.0 949.0 L488.1 949.8 L491.1 950.7 L494.2 951.8 L497.3 953.1 L500.3 954.5 L503.4 956.0 L506.5 957.7 L509.5 959.4 L512.6 961.3 L515.6 963.3 L518.7 965.3 L521.8 967.4 L524.8 969.6 L527.9 971.8 L531.0 973.9 L534.0 976.0 L537.1 978.0 L540.2 979.9 L543.2 981.7 L546.3 983.5 L549.3 985.1 L552.4 986.7 L555.5 988.2 L558.5 989.5 L561.6 990.7 L564.7 991.8 L567.7 992.7 L570.8 993.5 L573.9 994.1 L576.9 994.7 L580.0 995.1 L583.1 995.5 L586.1 995.9 L589.2 996.3 L592.2 996.7 L595.3 997.0 L598.4 997.3 L601.4 997.6 L604.5 997.8 L607.6 998.0 L610.6 998.1 L613.7 998.2 L616.8 998.1 L619.8 997.8 L622.9 997.4 L625.9 996.7 L629.0 996.0 L632.1 995.1 L635.1 994.0 L638.2 992.8 L641.3 991.6 L644.3 990.2 L647.4 988.8 L650.5 987.4 L653.5 986.0 L656.6 984.6 L659.6 983.2 L662.7 981.8 L665.8 980.3 L668.8 978.8 L671.9 977.1 L675.0 975.2 L678.0 973.1 L681.1 970.9 L684.2 968.6 L687.2 966.3 L690.3 964.2 L693.4 962.1 L696.4 960.2 L699.5 958.4 L702.5 956.5 L705.6 954.6 L708.7 952.6 L711.7 950.4 L714.8 948.2 L717.9 945.9 L720.9 943.7 L724.0 941.7 L727.1 939.7 L730.1 937.7 L733.2 935.8 L736.2 934.0 L739.3 932.1 L742.4 930.2 L745.4 928.3 L748.5 926.4 L751.6 924.5 L754.6 922.6 L757.7 920.8 L760.8 919.0 L763.8 917.2 L766.9 915.4 L770.0 913.6 L773.0 911.8 L776.1 909.9 L779.1 908.0 L782.2 906.0 L785.3 904.0 L788.3 902.1 L791.4 900.3 L794.5 898.6 L797.5 897.0 L800.6 895.5 L803.7 894.0 L806.7 892.7 L809.8 891.5 L812.8 890.4 L815.9 889.4 L819.0 888.6 L822.0 888.0 L825.1 887.5 L828.2 887.3 L831.2 887.3 L834.3 887.8 L837.4 888.6 L840.4 889.8 L843.5 891.4 L846.6 893.7 L849.6 896.5 L852.7 899.8 L855.7 903.5 L858.8 907.6 L861.9 911.9 L864.9 916.4 L868.0 921.3 L871.1 926.5 L874.1 932.0 L877.2 937.8 L880.3 943.8 L883.3 950.1 L886.4 956.9 L889.4 963.9 L892.5 971.0 L895.6 978.1 L898.6 985.1 L901.7 992.3 L904.8 999.9 L907.8 1008.5 L910.9 1017.8 L914.0 1027.3 L917.0 1036.5 L920.1 1045.3 L923.2 1053.8 L926.2 1062.0 L929.3 1070.2 L932.3 1078.2 L935.4 1086.1 L938.5 1093.6 L941.5 1100.8 L944.6 1108.1 L947.7 1115.6 L950.7 1123.1 L953.8 1130.2 L956.9 1136.8 L959.9 1142.8 L963.0 1148.6 L966.0 1154.3 L969.1 1159.9 L972.2 1165.3 L975.2 1170.5 L978.3 1175.5 L981.4 1180.2 L984.4 1184.7 L987.5 1189.0 L990.6 1193.1 L993.6 1197.0 L996.7 1200.7 L999.7 1204.3 L1002.8 1207.8 L1005.9 1211.2 L1008.9 1214.5 L1012.0 1217.6 L1015.1 1220.5 L1018.1 1223.1 L1021.2 1225.5 L1024.3 1227.7 L1027.3 1229.8 L1030.4 1231.6 L1033.5 1233.3 L1036.5 1234.9 L1039.6 1236.4 L1042.6 1237.8 L1045.7 1239.1 L1048.8 1240.3 L1051.8 1241.5 L1054.9 1242.5 L1058.0 1243.5 L1061.0 1244.5 L1064.1 1245.4 L1067.2 1246.2 L1070.2 1247.0 L1073.3 1247.7 L1076.3 1248.5 L1079.4 1249.1 L1082.5 1249.8 L1085.5 1250.3 L1088.6 1250.9 L1091.7 1251.4 L1094.7 1252.0 L1097.8 1252.5 L1100.9 1253.0 L1103.9 1253.5 L1107.0 1254.0 L1110.1 1254.5 L1113.1 1254.9 L1116.2 1255.3 L1119.2 1255.7 L1122.3 1256.1 L1125.4 1256.5 L1128.4 1256.8 L1131.5 1257.1 L1134.6 1257.4 L1137.6 1257.6 L1140.7 1257.8 L1143.8 1258.0 L1146.8 1258.1 L1149.9 1258.2 L1152.9 1258.3 L1156.0 1258.4 L1159.1 1258.5 L1162.1 1258.5 L1165.2 1258.5 L1168.3 1258.6 L1171.3 1258.6 L1174.4 1258.6 L1177.5 1258.6 L1180.5 1258.6 L1183.6 1258.6 L1186.7 1258.7 L1189.7 1258.7 L1192.8 1258.7 L1195.8 1258.7 L1198.9 1258.7 L1202.0 1258.7 L1205.0 1258.7 L1208.1 1258.7 L1211.2 1258.7 L1214.2 1258.7 L1217.3 1258.7 L1220.4 1258.7 L1223.4 1258.7 L1226.5 1258.7 L1229.5 1258.7 L1290.8 1258.7 L1352.1 1258.7 L1413.4 1258.7 L1474.7 1258.7 L1535.9 1258.7 L1597.2 1258.7 L1658.5 1258.7"/>
<path stroke-opacity="0.667" d="M187.8 964.0 L190.9 961.3 L193.9 958.5 L197.0 955.6 L200.1 952.6 L203.1 949.5 L206.2 946.3 L209.2 942.9 L212.3 939.4 L215.4 936.0 L218.4 932.6 L221.5 929.5 L224.6 926.8 L227.6 924.6 L230.7 922.8 L233.8 921.1 L236.8 919.3 L239.9 917.5 L243.0 915.6 L246.0 913.9 L249.1 912.5 L252.1 912.0 L255.2 912.0 L258.3 912.4 L261.3 912.9 L264.4 913.3 L267.5 913.4 L270.5 913.4 L273.6 913.2 L276.7 912.8 L279.7 912.2 L282.8 911.4 L285.8 910.4 L288.9 909.3 L292.0 908.2 L295.0 907.1 L298.1 906.0 L301.2 905.0 L304.2 904.0 L307.3 903.0 L310.4 902.0 L313.4 901.1 L316.5 900.1 L319.6 899.3 L322.6 898.7 L325.7 898.4 L328.7 898.5 L331.8 898.9 L334.9 899.7 L337.9 900.8 L341.0 902.3 L344.1 904.3 L347.1 906.7 L350.2 909.5 L353.3 912.6 L356.3 915.9 L359.4 919.3 L362.4 922.8 L365.5 926.5 L368.6 930.2 L371.6 933.9 L374.7 937.6 L377.8 941.3 L380.8 944.9 L383.9 948.3 L387.0 951.4 L390.0 954.3 L393.1 957.0 L396.1 959.6 L399.2 962.0 L402.3 964.3 L405.3 966.6 L408.4 968.7 L411.5 970.7 L414.5 972.4 L417.6 973.9 L420.7 975.2 L423.7 976.4 L426.8 977.3 L429.9 978.2 L432.9 978.9 L436.0 979.5 L439.0 980.0 L442.1 980.5 L445.2 980.9 L448.2 981.2 L451.3 981.4 L454.4 981.6 L457.4 981.6 L460.5 981.6 L463.6 981.6 L466.6 981.6 L469.7 981.5 L472.7 981.3 L475.8 981.3 L478.9 981.3 L481.9 981.5 L485.0 981.8 L488.1 982.3 L491.1 982.9 L494.2 983.6 L497.3 984.5 L500.3 985.5 L503.4 986.6 L506.5 987.8 L509.5 989.0 L512.6 990.2 L515.6 991.4 L518.7 992.7 L521.8 994.0 L524.8 995.4 L527.9 996.7 L531.0 998.0 L534.0 999.3 L537.1 1000.6 L540.2 1001.8 L543.2 1002.8 L546.3 1003.8 L549.3 1004.7 L552.4 1005.5 L555.5 1006.2 L558.5 1006.7 L561.6 1007.2 L564.7 1007.4 L567.7 1007.5 L570.8 1007.5 L573.9 1007.3 L576.9 1006.9 L580.0 1006.4 L583.1 1005.9 L586.1 1005.3 L589.2 1004.7 L592.2 1004.1 L595.3 1003.4 L598.4 1002.7 L601.4 1002.0 L604.5 1001.3 L607.6 1000.5 L610.6 999.6 L613.7 998.7 L616.8 997.7 L619.8 996.5 L622.9 995.1 L625.9 993.5 L629.0 991.7 L632.1 989.8 L635.1 987.7 L638.2 985.4 L641.3 983.0 L644.3 980.6 L647.4 978.1 L650.5 975.6 L653.5 973.1 L656.6 970.6 L659.6 968.2 L662.7 965.7 L665.8 963.3 L668.8 960.7 L671.9 957.9 L675.0 955.0 L678.0 951.8 L681.1 948.5 L684.2 945.1 L687.2 941.7 L690.3 938.5 L693.4 935.4 L696.4 932.5 L699.5 929.6 L702.5 926.7 L705.6 923.8 L708.7 920.7 L711.7 917.5 L714.8 914.2 L717.9 910.9 L720.9 907.7 L724.0 904.6 L727.1 901.6 L730.1 898.7 L733.2 895.9 L736.2 893.2 L739.3 890.5 L742.4 887.7 L745.4 885.0 L748.5 882.3 L751.6 879.7 L754.6 877.0 L757.7 874.5 L760.8 871.9 L763.8 869.5 L766.9 867.0 L770.0 864.6 L773.0 862.2 L776.1 859.7 L779.1 857.1 L782.2 854.6 L785.3 852.1 L788.3 849.6 L791.4 847.3 L794.5 845.1 L797.5 843.0 L800.6 841.0 L803.7 839.2 L806.7 837.4 L809.8 835.9 L812.8 834.4 L815.9 833.2 L819.0 832.1 L822.0 831.4 L825.1 830.8 L828.2 830.6 L831.2 830.9 L834.3 831.6 L837.4 832.7 L840.4 834.4 L843.5 836.5 L846.6 839.2 L849.6 842.6 L852.7 846.4 L855.7 850.6 L858.8 855.1 L861.9 860.0 L864.9 865.2 L868.0 870.9 L871.1 877.0 L874.1 883.4 L877.2 890.2 L880.3 897.2 L883.3 904.6 L886.4 912.4 L889.4 920.6 L892.5 928.9 L895.6 937.1 L898.6 945.2 L901.7 953.5 L904.8 962.4 L907.8 972.2 L910.9 983.0 L914.0 994.0 L917.0 1004.6 L920.1 1014.8 L923.2 1024.5 L926.2 1034.0 L929.3 1043.4 L932.3 1052.7 L935.4 1061.7 L938.5 1070.3 L941.5 1078.6 L944.6 1087.0 L947.7 1095.6 L950.7 1104.2 L953.8 1112.4 L956.9 1119.9 L959.9 1126.8 L963.0 1133.5 L966.0 1140.0 L969.1 1146.4 L972.2 1152.6 L975.2 1158.5 L978.3 1164.1 L981.4 1169.5 L984.4 1174.7 L987.5 1179.6 L990.6 1184.2 L993.6 1188.7 L996.7 1192.9 L999.7 1197.0 L1002.8 1201.0 L1005.9 1204.9 L1008.9 1208.6 L1012.0 1212.2 L1015.1 1215.4 L1018.1 1218.4 L1021.2 1221.2 L1024.3 1223.7 L1027.3 1226.0 L1030.4 1228.2 L1033.5 1230.1 L1036.5 1231.9 L1039.6 1233.6 L1042.6 1235.2 L1045.7 1236.7 L1048.8 1238.1 L1051.8 1239.4 L1054.9 1240.7 L1058.0 1241.8 L1061.0 1242.9 L1064.1 1243.9 L1067.2 1244.9 L1070.2 1245.8 L1073.3 1246.7 L1076.3 1247.5 L1079.4 1248.3 L1082.5 1249.0 L1085.5 1249.7 L1088.6 1250.3 L1091.7 1250.9 L1094.7 1251.5 L1097.8 1252.1 L1100.9 1252.7 L1103.9 1253.2 L1107.0 1253.8 L1110.1 1254.3 L1113.1 1254.8 L1116.2 1255.3 L1119.2 1255.7 L1122.3 1256.1 L1125.4 1256.5 L1128.4 1256.8 L1131.5 1257.1 L1134.6 1257.4 L1137.6 1257.6 L1140.7 1257.8 L1143.8 1258.0 L1146.8 1258.1 L1149.9 1258.2 L1152.9 1258.3 L1156.0 1258.4 L1159.1 1258.5 L1162.1 1258.5 L1165.2 1258.6 L1168.3 1258.6 L1171.3 1258.6 L1174.4 1258.6 L1177.5 1258.6 L1180.5 1258.6 L1183.6 1258.7 L1186.7 1258.7 L1189.7 1258.7 L1192.8 1258.7 L1195.8 1258.7 L1198.9 1258.7 L1202.0 1258.7 L1205.0 1258.7 L1208.1 1258.7 L1211.2 1258.7 L1214.2 1258.7 L1217.3 1258.7 L1220.4 1258.7 L1223.4 1258.7 L1226.5 1258.7 L1229.5 1258.7 L1290.8 1258.7 L1352.1 1258.7 L1413.4 1258.7 L1474.7 1258.7 L1535.9 1258.7 L1597.2 1258.7 L1658.5 1258.7"/>
<path stroke-opacity="0.750" d="M187.8 959.1 L190.9 956.3 L193.9 953.4 L197.0 950.5 L200.1 947.6 L203.1 944.5 L206.2 941.3 L209.2 938.0 L212.3 934.6 L215.4 931.3 L218.4 928.2 L221.5 925.3 L224.6 922.9 L227.6 921.1 L230.7 919.6 L233.8 918.4 L236.8 917.1 L239.9 915.8 L243.0 914.5 L246.0 913.3 L249.1 912.7 L252.1 913.3 L255.2 914.6 L258.3 916.2 L261.3 917.9 L264.4 919.4 L267.5 920.7 L270.5 921.7 L273.6 922.4 L276.7 922.9 L279.7 923.1 L282.8 923.1 L285.8 922.9 L288.9 922.6 L292.0 922.2 L295.0 921.8 L298.1 921.4 L301.2 921.0 L304.2 920.6 L307.3 920.1 L310.4 919.6 L313.4 919.1 L316.5 918.6 L319.6 918.1 L322.6 917.9 L325.7 917.9 L328.7 918.3 L331.8 919.0 L334.9 920.0 L337.9 921.4 L341.0 923.1 L344.1 925.2 L347.1 927.7 L350.2 930.4 L353.3 933.4 L356.3 936.6 L359.4 939.9 L362.4 943.4 L365.5 947.1 L368.6 950.8 L371.6 954.7 L374.7 958.8 L377.8 962.9 L380.8 967.0 L383.9 971.0 L387.0 974.7 L390.0 978.3 L393.1 981.6 L396.1 984.7 L399.2 987.6 L402.3 990.5 L405.3 993.2 L408.4 995.8 L411.5 998.1 L414.5 1000.2 L417.6 1002.0 L420.7 1003.5 L423.7 1004.9 L426.8 1006.1 L429.9 1007.1 L432.9 1008.0 L436.0 1008.7 L439.0 1009.4 L442.1 1009.9 L445.2 1010.4 L448.2 1010.6 L451.3 1010.8 L454.4 1010.8 L457.4 1010.8 L460.5 1010.7 L463.6 1010.6 L466.6 1010.4 L469.7 1010.2 L472.7 1010.0 L475.8 1009.8 L478.9 1009.7 L481.9 1009.6 L485.0 1009.7 L488.1 1009.8 L491.1 1010.0 L494.2 1010.3 L497.3 1010.6 L500.3 1011.1 L503.4 1011.6 L506.5 1012.2 L509.5 1012.8 L512.6 1013.5 L515.6 1014.2 L518.7 1014.9 L521.8 1015.6 L524.8 1016.4 L527.9 1017.1 L531.0 1017.8 L534.0 1018.4 L537.1 1019.0 L540.2 1019.4 L543.2 1019.7 L546.3 1019.9 L549.3 1019.9 L552.4 1019.9 L555.5 1019.7 L558.5 1019.4 L561.6 1019.0 L564.7 1018.5 L567.7 1017.8 L570.8 1017.1 L573.9 1016.2 L576.9 1015.2 L580.0 1014.1 L583.1 1013.0 L586.1 1011.8 L589.2 1010.7 L592.2 1009.4 L595.3 1008.2 L598.4 1006.8 L601.4 1005.4 L604.5 1003.9 L607.6 1002.4 L610.6 1000.8 L613.7 999.1 L616.8 997.3 L619.8 995.4 L622.9 993.2 L625.9 990.8 L629.0 988.1 L632.1 985.3 L635.1 982.3 L638.2 979.1 L641.3 975.8 L644.3 972.4 L647.4 968.9 L650.5 965.5 L653.5 962.0 L656.6 958.7 L659.6 955.3 L662.7 952.0 L665.8 948.7 L668.8 945.2 L671.9 941.6 L675.0 937.7 L678.0 933.6 L681.1 929.4 L684.2 925.0 L687.2 920.7 L690.3 916.6 L693.4 912.6 L696.4 908.8 L699.5 905.0 L702.5 901.3 L705.6 897.5 L708.7 893.5 L711.7 889.4 L714.8 885.2 L717.9 881.0 L720.9 876.8 L724.0 872.9 L727.1 869.1 L730.1 865.4 L733.2 861.8 L736.2 858.3 L739.3 854.8 L742.4 851.4 L745.4 848.0 L748.5 844.6 L751.6 841.3 L754.6 838.0 L757.7 834.8 L760.8 831.7 L763.8 828.7 L766.9 825.7 L770.0 822.7 L773.0 819.7 L776.1 816.7 L779.1 813.7 L782.2 810.6 L785.3 807.6 L788.3 804.7 L791.4 801.9 L794.5 799.2 L797.5 796.7 L800.6 794.4 L803.7 792.2 L806.7 790.1 L809.8 788.2 L812.8 786.5 L815.9 784.9 L819.0 783.6 L822.0 782.6 L825.1 781.8 L828.2 781.4 L831.2 781.4 L834.3 782.0 L837.4 783.0 L840.4 784.5 L843.5 786.6 L846.6 789.4 L849.6 792.9 L852.7 797.0 L855.7 801.7 L858.8 806.8 L861.9 812.4 L864.9 818.5 L868.0 825.1 L871.1 832.1 L874.1 839.5 L877.2 847.2 L880.3 855.2 L883.3 863.3 L886.4 871.9 L889.4 880.7 L892.5 889.6 L895.6 898.4 L898.6 907.1 L901.7 916.1 L904.8 925.8 L907.8 936.7 L910.9 948.6 L914.0 960.8 L917.0 972.7 L920.1 984.1 L923.2 995.0 L926.2 1005.6 L929.3 1016.1 L932.3 1026.5 L935.4 1036.6 L938.5 1046.3 L941.5 1055.6 L944.6 1065.0 L947.7 1074.6 L950.7 1084.4 L953.8 1093.6 L956.9 1102.1 L959.9 1109.9 L963.0 1117.4 L966.0 1124.8 L969.1 1132.0 L972.2 1139.0 L975.2 1145.7 L978.3 1152.1 L981.4 1158.2 L984.4 1164.0 L987.5 1169.6 L990.6 1174.9 L993.6 1179.9 L996.7 1184.8 L999.7 1189.5 L1002.8 1194.0 L1005.9 1198.4 L1008.9 1202.7 L1012.0 1206.7 L1015.1 1210.4 L1018.1 1213.9 L1021.2 1217.0 L1024.3 1219.9 L1027.3 1222.5 L1030.4 1224.9 L1033.5 1227.1 L1036.5 1229.2 L1039.6 1231.1 L1042.6 1232.9 L1045.7 1234.6 L1048.8 1236.1 L1051.8 1237.6 L1054.9 1239.0 L1058.0 1240.3 L1061.0 1241.5 L1064.1 1242.7 L1067.2 1243.8 L1070.2 1244.8 L1073.3 1245.8 L1076.3 1246.7 L1079.4 1247.5 L1082.5 1248.3 L1085.5 1249.1 L1088.6 1249.8 L1091.7 1250.5 L1094.7 1251.1 L1097.8 1251.8 L1100.9 1252.4 L1103.9 1253.0 L1107.0 1253.6 L1110.1 1254.2 L1113.1 1254.7 L1116.2 1255.2 L1119.2 1255.7 L1122.3 1256.1 L1125.4 1256.5 L1128.4 1256.8 L1131.5 1257.1 L1134.6 1257.4 L1137.6 1257.6 L1140.7 1257.8 L1143.8 1258.0 L1146.8 1258.2 L1149.9 1258.3 L1152.9 1258.4 L1156.0 1258.4 L1159.1 1258.5 L1162.1 1258.5 L1165.2 1258.6 L1168.3 1258.6 L1171.3 1258.6 L1174.4 1258.6 L1177.5 1258.6 L1180.5 1258.6 L1183.6 1258.7 L1186.7 1258.7 L1189.7 1258.7 L1192.8 1258.7 L1195.8 1258.7 L1198.9 1258.7 L1202.0 1258.7 L1205.0 1258.7 L1208.1 1258.7 L1211.2 1258.7 L1214.2 1258.7 L1217.3 1258.7 L1220.4 1258.7 L1223.4 1258.7 L1226.5 1258.7 L1229.5 1258.7 L1290.8 1258.7 L1352.1 1258.7 L1413.4 1258.7 L1474.7 1258.7 L1535.9 1258.7 L1597.2 1258.7 L1658.5 1258.7"/>
<path stroke-opacity="0.833" d="M187.8 953.9 L190.9 951.0 L193.9 948.2 L197.0 945.2 L200.1 942.2 L203.1 939.2 L206.2 936.0 L209.2 932.8 L212.3 929.6 L215.4 926.5 L218.4 923.5 L221.5 920.9 L224.6 918.8 L227.6 917.4 L230.7 916.4 L233.8 915.6 L236.8 914.9 L239.9 914.3 L243.0 913.8 L246.0 913.5 L249.1 913.9 L252.1 916.0 L255.2 918.8 L258.3 921.9 L261.3 924.9 L264.4 927.5 L267.5 929.6 L270.5 931.2 L273.6 932.4 L276.7 933.3 L279.7 933.8 L282.8 934.1 L285.8 934.2 L288.9 934.3 L292.0 934.2 L295.0 934.2 L298.1 934.2 L301.2 934.3 L304.2 934.3 L307.3 934.3 L310.4 934.2 L313.4 934.1 L316.5 934.0 L319.6 933.9 L322.6 934.0 L325.7 934.4 L328.7 935.1 L331.8 936.0 L334.9 937.3 L337.9 938.8 L341.0 940.7 L344.1 942.9 L347.1 945.4 L350.2 948.2 L353.3 951.3 L356.3 954.5 L359.4 957.8 L362.4 961.3 L365.5 964.9 L368.6 968.8 L371.6 972.7 L374.7 976.9 L377.8 981.1 L380.8 985.4 L383.9 989.6 L387.0 993.6 L390.0 997.4 L393.1 1000.9 L396.1 1004.3 L399.2 1007.4 L402.3 1010.4 L405.3 1013.3 L408.4 1016.0 L411.5 1018.4 L414.5 1020.6 L417.6 1022.5 L420.7 1024.2 L423.7 1025.6 L426.8 1026.9 L429.9 1028.0 L432.9 1028.8 L436.0 1029.5 L439.0 1030.1 L442.1 1030.6 L445.2 1030.9 L448.2 1031.0 L451.3 1031.0 L454.4 1030.8 L457.4 1030.7 L460.5 1030.5 L463.6 1030.3 L466.6 1030.1 L469.7 1029.9 L472.7 1029.6 L475.8 1029.4 L478.9 1029.3 L481.9 1029.3 L485.0 1029.3 L488.1 1029.3 L491.1 1029.4 L494.2 1029.5 L497.3 1029.6 L500.3 1029.7 L503.4 1029.9 L506.5 1030.1 L509.5 1030.3 L512.6 1030.5 L515.6 1030.8 L518.7 1031.0 L521.8 1031.3 L524.8 1031.5 L527.9 1031.8 L531.0 1032.0 L534.0 1032.1 L537.1 1032.2 L540.2 1032.2 L543.2 1032.1 L546.3 1031.8 L549.3 1031.5 L552.4 1031.1 L555.5 1030.5 L558.5 1029.8 L561.6 1029.0 L564.7 1028.0 L567.7 1026.9 L570.8 1025.7 L573.9 1024.4 L576.9 1023.0 L580.0 1021.5 L583.1 1019.9 L586.1 1018.2 L589.2 1016.5 L592.2 1014.7 L595.3 1012.8 L598.4 1010.8 L601.4 1008.6 L604.5 1006.5 L607.6 1004.2 L610.6 1002.0 L613.7 999.6 L616.8 997.2 L619.8 994.7 L622.9 992.0 L625.9 989.1 L629.0 985.9 L632.1 982.5 L635.1 978.9 L638.2 975.2 L641.3 971.3 L644.3 967.3 L647.4 963.3 L650.5 959.3 L653.5 955.3 L656.6 951.3 L659.6 947.4 L662.7 943.6 L665.8 939.7 L668.8 935.7 L671.9 931.5 L675.0 927.1 L678.0 922.4 L681.1 917.6 L684.2 912.6 L687.2 907.8 L690.3 903.1 L693.4 898.5 L696.4 894.2 L699.5 889.9 L702.5 885.6 L705.6 881.2 L708.7 876.7 L711.7 872.0 L714.8 867.3 L717.9 862.5 L720.9 857.8 L724.0 853.3 L727.1 849.0 L730.1 844.8 L733.2 840.8 L736.2 836.8 L739.3 832.9 L742.4 829.0 L745.4 825.2 L748.5 821.4 L751.6 817.7 L754.6 814.0 L757.7 810.4 L760.8 806.9 L763.8 803.5 L766.9 800.2 L770.0 796.9 L773.0 793.6 L776.1 790.2 L779.1 786.9 L782.2 783.5 L785.3 780.2 L788.3 777.0 L791.4 773.9 L794.5 771.0 L797.5 768.3 L800.6 765.7 L803.7 763.2 L806.7 761.0 L809.8 758.9 L812.8 757.0 L815.9 755.3 L819.0 753.9 L822.0 752.8 L825.1 752.1 L828.2 751.7 L831.2 751.9 L834.3 752.6 L837.4 753.8 L840.4 755.4 L843.5 757.6 L846.6 760.4 L849.6 763.7 L852.7 767.6 L855.7 772.0 L858.8 776.8 L861.9 782.0 L864.9 787.9 L868.0 794.3 L871.1 801.3 L874.1 808.9 L877.2 817.0 L880.3 825.4 L883.3 834.2 L886.4 843.6 L889.4 853.3 L892.5 863.3 L895.6 873.1 L898.6 882.9 L901.7 892.9 L904.8 903.6 L907.8 915.5 L910.9 928.5 L914.0 941.7 L917.0 954.5 L920.1 966.7 L923.2 978.4 L926.2 989.8 L929.3 1001.0 L932.3 1012.2 L935.4 1023.0 L938.5 1033.3 L941.5 1043.3 L944.6 1053.3 L947.7 1063.6 L950.7 1074.0 L953.8 1083.8 L956.9 1092.8 L959.9 1101.1 L963.0 1109.1 L966.0 1117.0 L969.1 1124.7 L972.2 1132.1 L975.2 1139.2 L978.3 1146.0 L981.4 1152.5 L984.4 1158.7 L987.5 1164.6 L990.6 1170.2 L993.6 1175.5 L996.7 1180.7 L999.7 1185.6 L1002.8 1190.4 L1005.9 1195.1 L1008.9 1199.6 L1012.0 1203.8 L1015.1 1207.8 L1018.1 1211.4 L1021.2 1214.7 L1024.3 1217.7 L1027.3 1220.5 L1030.4 1223.1 L1033.5 1225.4 L1036.5 1227.6 L1039.6 1229.6 L1042.6 1231.5 L1045.7 1233.3 L1048.8 1235.0 L1051.8 1236.6 L1054.9 1238.0 L1058.0 1239.4 L1061.0 1240.7 L1064.1 1241.9 L1067.2 1243.1 L1070.2 1244.2 L1073.3 1245.2 L1076.3 1246.2 L1079.4 1247.1 L1082.5 1247.9 L1085.5 1248.7 L1088.6 1249.5 L1091.7 1250.2 L1094.7 1250.9 L1097.8 1251.6 L1100.9 1252.2 L1103.9 1252.9 L1107.0 1253.5 L1110.1 1254.1 L1113.1 1254.6 L1116.2 1255.2 L1119.2 1255.6 L1122.3 1256.1 L1125.4 1256.4 L1128.4 1256.8 L1131.5 1257.1 L1134.6 1257.4 L1137.6 1257.6 L1140.7 1257.9 L1143.8 1258.0 L1146.8 1258.2 L1149.9 1258.3 L1152.9 1258.4 L1156.0 1258.4 L1159.1 1258.5 L1162.1 1258.5 L1165.2 1258.6 L1168.3 1258.6 L1171.3 1258.6 L1174.4 1258.6 L1177.5 1258.6 L1180.5 1258.6 L1183.6 1258.7 L1186.7 1258.7 L1189.7 1258.7 L1192.8 1258.7 L1195.8 1258.7 L1198.9 1258.7 L1202.0 1258.7 L1205.0 1258.7 L1208.1 1258.7 L1211.2 1258.7 L1214.2 1258.7 L1217.3 1258.7 L1220.4 1258.7 L1223.4 1258.7 L1226.5 1258.7 L1229.5 1258.7 L1290.8 1258.7 L1352.1 1258.7 L1413.4 1258.7 L1474.7 1258.7 L1535.9 1258.7 L1597.2 1258.7 L1658.5 1258.7"/>
<path stroke-opacity="0.917" d="M187.8 947.3 L190.9 944.4 L193.9 941.4 L197.0 938.5 L200.1 935.5 L203.1 932.5 L206.2 929.5 L209.2 926.4 L212.3 923.4 L215.4 920.6 L218.4 918.1 L221.5 916.0 L224.6 914.6 L227.6 913.9 L230.7 913.7 L233.8 913.7 L236.8 913.7 L239.9 913.7 L243.0 913.6 L246.0 913.5 L249.1 914.2 L252.1 918.6 L255.2 923.6 L258.3 928.9 L261.3 934.1 L264.4 938.9 L267.5 943.4 L270.5 947.6 L273.6 951.5 L276.7 955.1 L279.7 958.3 L282.8 961.2 L285.8 963.7 L288.9 966.0 L292.0 968.1 L295.0 970.1 L298.1 971.9 L301.2 973.5 L304.2 975.0 L307.3 976.3 L310.4 977.5 L313.4 978.5 L316.5 979.4 L319.6 980.3 L322.6 981.4 L325.7 982.7 L328.7 984.2 L331.8 986.0 L334.9 988.1 L337.9 990.5 L341.0 993.3 L344.1 996.4 L347.1 999.9 L350.2 1003.7 L353.3 1007.8 L356.3 1012.0 L359.4 1016.4 L362.4 1020.9 L365.5 1025.5 L368.6 1030.3 L371.6 1035.3 L374.7 1040.4 L377.8 1045.5 L380.8 1050.7 L383.9 1055.6 L387.0 1060.2 L390.0 1064.5 L393.1 1068.4 L396.1 1072.1 L399.2 1075.7 L402.3 1079.3 L405.3 1082.8 L408.4 1086.3 L411.5 1089.5 L414.5 1092.6 L417.6 1095.3 L420.7 1097.7 L423.7 1099.9 L426.8 1101.7 L429.9 1103.3 L432.9 1104.5 L436.0 1105.4 L439.0 1106.1 L442.1 1106.6 L445.2 1106.8 L448.2 1106.8 L451.3 1106.5 L454.4 1106.1 L457.4 1105.6 L460.5 1104.9 L463.6 1104.2 L466.6 1103.3 L469.7 1102.2 L472.7 1101.0 L475.8 1099.8 L478.9 1098.6 L481.9 1097.4 L485.0 1096.3 L488.1 1095.1 L491.1 1094.0 L494.2 1092.8 L497.3 1091.6 L500.3 1090.4 L503.4 1089.1 L506.5 1087.9 L509.5 1086.6 L512.6 1085.2 L515.6 1083.8 L518.7 1082.4 L521.8 1080.9 L524.8 1079.3 L527.9 1077.7 L531.0 1076.0 L534.0 1074.3 L537.1 1072.4 L540.2 1070.5 L543.2 1068.5 L546.3 1066.4 L549.3 1064.2 L552.4 1062.0 L555.5 1059.7 L558.5 1057.3 L561.6 1054.7 L564.7 1052.1 L567.7 1049.3 L570.8 1046.5 L573.9 1043.5 L576.9 1040.3 L580.0 1037.0 L583.1 1033.7 L586.1 1030.4 L589.2 1027.1 L592.2 1023.9 L595.3 1020.6 L598.4 1017.3 L601.4 1014.0 L604.5 1010.6 L607.6 1007.1 L610.6 1003.5 L613.7 999.6 L616.8 995.4 L619.8 990.8 L622.9 985.7 L625.9 980.2 L629.0 974.3 L632.1 968.1 L635.1 961.6 L638.2 954.8 L641.3 947.9 L644.3 940.9 L647.4 933.9 L650.5 926.8 L653.5 919.8 L656.6 912.9 L659.6 906.2 L662.7 899.5 L665.8 892.7 L668.8 885.9 L671.9 878.8 L675.0 871.5 L678.0 863.9 L681.1 856.0 L684.2 848.0 L687.2 840.1 L690.3 832.5 L693.4 825.0 L696.4 817.8 L699.5 810.7 L702.5 803.6 L705.6 796.3 L708.7 788.9 L711.7 781.3 L714.8 773.6 L717.9 765.9 L720.9 758.4 L724.0 751.1 L727.1 744.0 L730.1 737.3 L733.2 730.7 L736.2 724.3 L739.3 718.0 L742.4 711.8 L745.4 705.7 L748.5 699.7 L751.6 693.9 L754.6 688.1 L757.7 682.6 L760.8 677.2 L763.8 671.9 L766.9 666.7 L770.0 661.7 L773.0 656.6 L776.1 651.6 L779.1 646.6 L782.2 641.5 L785.3 636.6 L788.3 631.9 L791.4 627.4 L794.5 623.1 L797.5 619.0 L800.6 615.2 L803.7 611.6 L806.7 608.2 L809.8 605.1 L812.8 602.2 L815.9 599.7 L819.0 597.5 L822.0 595.7 L825.1 594.3 L828.2 593.4 L831.2 593.2 L834.3 593.7 L837.4 594.8 L840.4 596.6 L843.5 599.3 L846.6 602.8 L849.6 607.3 L852.7 612.5 L855.7 618.3 L858.8 624.6 L861.9 631.5 L864.9 638.9 L868.0 647.1 L871.1 655.9 L874.1 665.5 L877.2 675.6 L880.3 686.3 L883.3 697.6 L886.4 709.7 L889.4 722.3 L892.5 735.2 L895.6 748.0 L898.6 760.7 L901.7 773.7 L904.8 787.7 L907.8 803.2 L910.9 820.2 L914.0 837.6 L917.0 854.4 L920.1 870.5 L923.2 886.0 L926.2 901.1 L929.3 916.0 L932.3 930.7 L935.4 945.1 L938.5 958.8 L941.5 972.1 L944.6 985.4 L947.7 999.2 L950.7 1013.0 L953.8 1026.1 L956.9 1038.1 L959.9 1049.2 L963.0 1059.9 L966.0 1070.4 L969.1 1080.7 L972.2 1090.6 L975.2 1100.1 L978.3 1109.3 L981.4 1118.0 L984.4 1126.3 L987.5 1134.2 L990.6 1141.7 L993.6 1148.9 L996.7 1155.8 L999.7 1162.5 L1002.8 1169.0 L1005.9 1175.2 L1008.9 1181.3 L1012.0 1187.0 L1015.1 1192.3 L1018.1 1197.2 L1021.2 1201.6 L1024.3 1205.7 L1027.3 1209.4 L1030.4 1212.9 L1033.5 1216.0 L1036.5 1218.9 L1039.6 1221.6 L1042.6 1224.1 L1045.7 1226.5 L1048.8 1228.7 L1051.8 1230.8 L1054.9 1232.8 L1058.0 1234.6 L1061.0 1236.3 L1064.1 1237.9 L1067.2 1239.4 L1070.2 1240.9 L1073.3 1242.2 L1076.3 1243.5 L1079.4 1244.7 L1082.5 1245.8 L1085.5 1246.9 L1088.6 1247.8 L1091.7 1248.7 L1094.7 1249.6 L1097.8 1250.5 L1100.9 1251.4 L1103.9 1252.2 L1107.0 1252.9 L1110.1 1253.6 L1113.1 1254.3 L1116.2 1254.9 L1119.2 1255.5 L1122.3 1256.0 L1125.4 1256.4 L1128.4 1256.8 L1131.5 1257.2 L1134.6 1257.5 L1137.6 1257.7 L1140.7 1257.9 L1143.8 1258.1 L1146.8 1258.2 L1149.9 1258.4 L1152.9 1258.4 L1156.0 1258.5 L1159.1 1258.5 L1162.1 1258.6 L1165.2 1258.6 L1168.3 1258.6 L1171.3 1258.6 L1174.4 1258.7 L1177.5 1258.7 L1180.5 1258.7 L1183.6 1258.7 L1186.7 1258.7 L1189.7 1258.7 L1192.8 1258.7 L1195.8 1258.7 L1198.9 1258.7 L1202.0 1258.7 L1205.0 1258.7 L1208.1 1258.7 L1211.2 1258.7 L1214.2 1258.7 L1217.3 1258.7 L1220.4 1258.7 L1223.4 1258.7 L1226.5 1258.7 L1229.5 1258.7 L1290.8 1258.7 L1352.1 1258.7 L1413.4 1258.7 L1474.7 1258.7 L1535.9 1258.7 L1597.2 1258.7 L1658.5 1258.7"/>
<path stroke-opacity="1.000" d="M187.8 912.1 L190.9 908.6 L193.9 905.3 L197.0 902.2 L200.1 899.2 L203.1 896.3 L206.2 893.6 L209.2 891.2 L212.3 889.0 L215.4 887.1 L218.4 885.8 L221.5 885.2 L224.6 885.7 L227.6 887.2 L230.7 889.6 L233.8 892.6 L236.8 895.9 L239.9 899.6 L243.0 903.6 L246.0 908.1 L249.1 913.2 L252.1 919.1 L255.2 925.6 L258.3 932.5 L261.3 939.3 L264.4 945.6 L267.5 951.3 L270.5 956.5 L273.6 961.2 L276.7 965.5 L279.7 969.3 L282.8 972.7 L285.8 975.6 L288.9 978.3 L292.0 980.8 L295.0 983.2 L298.1 985.4 L301.2 987.6 L304.2 989.6 L307.3 991.4 L310.4 993.1 L313.4 994.6 L316.5 996.0 L319.6 997.3 L322.6 998.8 L325.7 1000.4 L328.7 1002.2 L331.8 1004.3 L334.9 1006.7 L337.9 1009.3 L341.0 1012.3 L344.1 1015.7 L347.1 1019.4 L350.2 1023.5 L353.3 1027.8 L356.3 1032.3 L359.4 1036.8 L362.4 1041.4 L365.5 1046.2 L368.6 1051.1 L371.6 1056.0 L374.7 1061.1 L377.8 1066.2 L380.8 1071.3 L383.9 1076.3 L387.0 1080.9 L390.0 1085.3 L393.1 1089.4 L396.1 1093.3 L399.2 1097.0 L402.3 1100.8 L405.3 1104.4 L408.4 1108.0 L411.5 1111.3 L414.5 1114.4 L417.6 1117.1 L420.7 1119.5 L423.7 1121.7 L426.8 1123.7 L429.9 1125.3 L432.9 1126.7 L436.0 1127.8 L439.0 1128.7 L442.1 1129.4 L445.2 1129.9 L448.2 1130.1 L451.3 1130.0 L454.4 1129.7 L457.4 1129.3 L460.5 1128.7 L463.6 1128.0 L466.6 1127.1 L469.7 1126.0 L472.7 1124.7 L475.8 1123.3 L478.9 1121.8 L481.9 1120.3 L485.0 1118.8 L488.1 1117.3 L491.1 1115.7 L494.2 1114.1 L497.3 1112.5 L500.3 1110.9 L503.4 1109.2 L506.5 1107.5 L509.5 1105.7 L512.6 1103.8 L515.6 1101.9 L518.7 1099.9 L521.8 1097.9 L524.8 1095.8 L527.9 1093.7 L531.0 1091.5 L534.0 1089.3 L537.1 1087.0 L540.2 1084.6 L543.2 1082.1 L546.3 1079.5 L549.3 1076.8 L552.4 1074.0 L555.5 1071.0 L558.5 1067.9 L561.6 1064.7 L564.7 1061.3 L567.7 1057.8 L570.8 1054.2 L573.9 1050.4 L576.9 1046.6 L580.0 1042.7 L583.1 1038.8 L586.1 1034.9 L589.2 1031.1 L592.2 1027.4 L595.3 1023.7 L598.4 1020.0 L601.4 1016.2 L604.5 1012.4 L607.6 1008.4 L610.6 1004.3 L613.7 999.9 L616.8 995.1 L619.8 989.9 L622.9 984.3 L625.9 978.2 L629.0 971.7 L632.1 964.9 L635.1 957.7 L638.2 950.3 L641.3 942.7 L644.3 935.0 L647.4 927.3 L650.5 919.6 L653.5 911.9 L656.6 904.4 L659.6 897.0 L662.7 889.6 L665.8 882.3 L668.8 874.8 L671.9 867.1 L675.0 859.1 L678.0 850.8 L681.1 842.3 L684.2 833.7 L687.2 825.1 L690.3 816.8 L693.4 808.7 L696.4 800.9 L699.5 793.1 L702.5 785.4 L705.6 777.6 L708.7 769.5 L711.7 761.3 L714.8 752.9 L717.9 744.6 L720.9 736.4 L724.0 728.5 L727.1 720.9 L730.1 713.6 L733.2 706.4 L736.2 699.5 L739.3 692.7 L742.4 686.0 L745.4 679.4 L748.5 673.0 L751.6 666.6 L754.6 660.5 L757.7 654.4 L760.8 648.6 L763.8 642.9 L766.9 637.4 L770.0 631.9 L773.0 626.5 L776.1 621.1 L779.1 615.7 L782.2 610.4 L785.3 605.1 L788.3 600.0 L791.4 595.2 L794.5 590.6 L797.5 586.3 L800.6 582.1 L803.7 578.3 L806.7 574.7 L809.8 571.3 L812.8 568.3 L815.9 565.5 L819.0 563.2 L822.0 561.2 L825.1 559.7 L828.2 558.8 L831.2 558.5 L834.3 559.0 L837.4 560.1 L840.4 562.0 L843.5 564.8 L846.6 568.5 L849.6 573.2 L852.7 578.6 L855.7 584.7 L858.8 591.3 L861.9 598.5 L864.9 606.4 L868.0 614.9 L871.1 624.2 L874.1 634.3 L877.2 644.9 L880.3 656.2 L883.3 668.1 L886.4 680.8 L889.4 694.1 L892.5 707.6 L895.6 721.1 L898.6 734.5 L901.7 748.2 L904.8 762.9 L907.8 779.2 L910.9 797.1 L914.0 815.4 L917.0 833.2 L920.1 850.1 L923.2 866.4 L926.2 882.3 L929.3 898.0 L932.3 913.6 L935.4 928.7 L938.5 943.2 L941.5 957.1 L944.6 971.2 L947.7 985.6 L950.7 1000.1 L953.8 1014.0 L956.9 1026.6 L959.9 1038.3 L963.0 1049.5 L966.0 1060.6 L969.1 1071.4 L972.2 1081.9 L975.2 1091.9 L978.3 1101.6 L981.4 1110.7 L984.4 1119.5 L987.5 1127.8 L990.6 1135.7 L993.6 1143.3 L996.7 1150.6 L999.7 1157.6 L1002.8 1164.4 L1005.9 1171.0 L1008.9 1177.3 L1012.0 1183.4 L1015.1 1189.0 L1018.1 1194.1 L1021.2 1198.8 L1024.3 1203.1 L1027.3 1207.0 L1030.4 1210.6 L1033.5 1213.9 L1036.5 1217.0 L1039.6 1219.8 L1042.6 1222.5 L1045.7 1225.0 L1048.8 1227.3 L1051.8 1229.6 L1054.9 1231.6 L1058.0 1233.5 L1061.0 1235.3 L1064.1 1237.0 L1067.2 1238.6 L1070.2 1240.1 L1073.3 1241.6 L1076.3 1242.9 L1079.4 1244.2 L1082.5 1245.3 L1085.5 1246.4 L1088.6 1247.5 L1091.7 1248.4 L1094.7 1249.4 L1097.8 1250.3 L1100.9 1251.2 L1103.9 1252.0 L1107.0 1252.8 L1110.1 1253.6 L1113.1 1254.2 L1116.2 1254.9 L1119.2 1255.5 L1122.3 1256.0 L1125.4 1256.4 L1128.4 1256.8 L1131.5 1257.2 L1134.6 1257.5 L1137.6 1257.7 L1140.7 1257.9 L1143.8 1258.1 L1146.8 1258.3 L1149.9 1258.4 L1152.9 1258.4 L1156.0 1258.5 L1159.1 1258.6 L1162.1 1258.6 L1165.2 1258.6 L1168.3 1258.6 L1171.3 1258.6 L1174.4 1258.7 L1177.5 1258.7 L1180.5 1258.7 L1183.6 1258.7 L1186.7 1258.7 L1189.7 1258.7 L1192.8 1258.7 L1195.8 1258.7 L1198.9 1258.7 L1202.0 1258.7 L1205.0 1258.7 L1208.1 1258.7 L1211.2 1258.7 L1214.2 1258.7 L1217.3 1258.7 L1220.4 1258.7 L1223.4 1258.7 L1226.5 1258.7 L1229.5 1258.7 L1290.8 1258.7 L1352.1 1258.7 L1413.4 1258.7 L1474.7 1258.7 L1535.9 1258.7 L1597.2 1258.7 L1658.5 1258.7"/>
</g>
<g stroke="#000" fill="none">
<line x1="164" y1="1260.3" x2="189" y2="1260.3" stroke-width="2.6"/>
<line x1="187.6" y1="181.6" x2="187.6" y2="1261.3" stroke-width="2.8"/>
<line x1="164" y1="181.6" x2="1680" y2="181.6" stroke-width="5"/>
<line x1="1658.5" y1="171" x2="1658.5" y2="1281" stroke-width="5.2"/>
<line x1="1658.5" y1="1260.3" x2="1680" y2="1260.3" stroke-width="2.6"/>
<line x1="175.1" y1="1206.4" x2="187.6" y2="1206.4" stroke-width="2.5"/>
<line x1="1658.5" y1="1206.4" x2="1668.5" y2="1206.4" stroke-width="2.5"/>
<line x1="163.6" y1="1152.4" x2="187.6" y2="1152.4" stroke-width="4.8"/>
<line x1="1658.5" y1="1152.4" x2="1680.0" y2="1152.4" stroke-width="4.8"/>
<line x1="175.1" y1="1098.5" x2="187.6" y2="1098.5" stroke-width="4.8"/>
<line x1="1658.5" y1="1098.5" x2="1668.5" y2="1098.5" stroke-width="4.8"/>
<line x1="163.6" y1="1044.6" x2="187.6" y2="1044.6" stroke-width="2.5"/>
<line x1="1658.5" y1="1044.6" x2="1680.0" y2="1044.6" stroke-width="2.5"/>
<line x1="175.1" y1="990.6" x2="187.6" y2="990.6" stroke-width="2.5"/>
<line x1="1658.5" y1="990.6" x2="1668.5" y2="990.6" stroke-width="2.5"/>
<line x1="163.6" y1="936.7" x2="187.6" y2="936.7" stroke-width="4.8"/>
<line x1="1658.5" y1="936.7" x2="1680.0" y2="936.7" stroke-width="4.8"/>
<line x1="175.1" y1="882.8" x2="187.6" y2="882.8" stroke-width="4.8"/>
<line x1="1658.5" y1="882.8" x2="1668.5" y2="882.8" stroke-width="4.8"/>
<line x1="163.6" y1="828.8" x2="187.6" y2="828.8" stroke-width="2.5" stroke="#999"/>
<line x1="1658.5" y1="828.8" x2="1680.0" y2="828.8" stroke-width="2.5" stroke="#999"/>
<line x1="175.1" y1="774.9" x2="187.6" y2="774.9" stroke-width="2.5"/>
<line x1="1658.5" y1="774.9" x2="1668.5" y2="774.9" stroke-width="2.5"/>
<line x1="163.6" y1="720.9" x2="187.6" y2="720.9" stroke-width="4.8"/>
<line x1="1658.5" y1="720.9" x2="1680.0" y2="720.9" stroke-width="4.8"/>
<line x1="175.1" y1="667.0" x2="187.6" y2="667.0" stroke-width="4.8"/>
<line x1="1658.5" y1="667.0" x2="1668.5" y2="667.0" stroke-width="4.8"/>
<line x1="163.6" y1="613.1" x2="187.6" y2="613.1" stroke-width="4.8"/>
<line x1="1658.5" y1="613.1" x2="1680.0" y2="613.1" stroke-width="4.8"/>
<line x1="175.1" y1="559.1" x2="187.6" y2="559.1" stroke-width="2.5"/>
<line x1="1658.5" y1="559.1" x2="1668.5" y2="559.1" stroke-width="2.5"/>
<line x1="163.6" y1="505.2" x2="187.6" y2="505.2" stroke-width="2.5"/>
<line x1="1658.5" y1="505.2" x2="1680.0" y2="505.2" stroke-width="2.5"/>
<line x1="175.1" y1="451.3" x2="187.6" y2="451.3" stroke-width="4.8"/>
<line x1="1658.5" y1="451.3" x2="1668.5" y2="451.3" stroke-width="4.8"/>
<line x1="163.6" y1="397.3" x2="187.6" y2="397.3" stroke-width="4.8"/>
<line x1="1658.5" y1="397.3" x2="1680.0" y2="397.3" stroke-width="4.8"/>
<line x1="175.1" y1="343.4" x2="187.6" y2="343.4" stroke-width="2.5"/>
<line x1="1658.5" y1="343.4" x2="1668.5" y2="343.4" stroke-width="2.5"/>
<line x1="163.6" y1="289.5" x2="187.6" y2="289.5" stroke-width="2.5"/>
<line x1="1658.5" y1="289.5" x2="1680.0" y2="289.5" stroke-width="2.5"/>
<line x1="175.1" y1="235.5" x2="187.6" y2="235.5" stroke-width="4.8"/>
<line x1="1658.5" y1="235.5" x2="1668.5" y2="235.5" stroke-width="4.8"/>
<line x1="1658.5" y1="181.6" x2="1680" y2="181.6" stroke-width="5.0"/>
<line x1="279.7" y1="1260.3" x2="279.7" y2="1269.8" stroke-width="4.5"/>
<line x1="432.9" y1="1260.3" x2="432.9" y2="1281.3" stroke-width="2.8"/>
<line x1="586.1" y1="1260.3" x2="586.1" y2="1269.8" stroke-width="2.2"/>
<line x1="739.3" y1="1260.3" x2="739.3" y2="1281.3" stroke-width="3.6"/>
<line x1="892.5" y1="1260.3" x2="892.5" y2="1269.8" stroke-width="4.5"/>
<line x1="1045.7" y1="1260.3" x2="1045.7" y2="1281.3" stroke-width="4.5"/>
<line x1="1198.9" y1="1260.3" x2="1198.9" y2="1269.8" stroke-width="2.2"/>
<line x1="1352.1" y1="1260.3" x2="1352.1" y2="1281.3" stroke-width="2.8"/>
<line x1="1505.3" y1="1260.3" x2="1505.3" y2="1269.8" stroke-width="4.5"/>
<line x1="228.7" y1="181.6" x2="228.7" y2="160.1" stroke-width="2.6"/>
<line x1="321.5" y1="181.6" x2="321.5" y2="171.1" stroke-width="2.2"/>
<line x1="432.9" y1="181.6" x2="432.9" y2="160.1" stroke-width="2.6"/>
<line x1="569.1" y1="181.6" x2="569.1" y2="171.1" stroke-width="2.2"/>
<line x1="739.3" y1="181.6" x2="739.3" y2="160.1" stroke-width="3.6"/>
<line x1="958.2" y1="181.6" x2="958.2" y2="171.1" stroke-width="4.5"/>
<line x1="1250.0" y1="181.6" x2="1250.0" y2="160.1" stroke-width="4.5"/>
</g>
<g>
<text class="tk" transform="translate(149.3 1274.6) scale(1.000 1.100)" text-anchor="end">0.0</text>
<text class="tk" transform="translate(1694.6 1274.6) scale(1.000 1.100)" text-anchor="start">0.0</text>
<text class="tk" transform="translate(149.3 1166.7) scale(1.000 1.100)" text-anchor="end">0.2</text>
<text class="tk" transform="translate(1694.6 1166.7) scale(1.000 1.100)" text-anchor="start">0.2</text>
<text class="tk" transform="translate(149.3 1058.9) scale(1.000 1.100)" text-anchor="end">0.4</text>
<text class="tk" transform="translate(1694.6 1058.9) scale(1.000 1.100)" text-anchor="start">0.4</text>
<text class="tk" transform="translate(149.3 951.0) scale(1.000 1.100)" text-anchor="end">0.6</text>
<text class="tk" transform="translate(1694.6 951.0) scale(1.000 1.100)" text-anchor="start">0.6</text>
<text class="tk" transform="translate(149.3 843.1) scale(1.000 1.100)" text-anchor="end">0.8</text>
<text class="tk" transform="translate(1694.6 843.1) scale(1.000 1.100)" text-anchor="start">0.8</text>
<text class="tk" transform="translate(149.3 735.2) scale(1.000 1.100)" text-anchor="end">1.0</text>
<text class="tk" transform="translate(1694.6 735.2) scale(1.000 1.100)" text-anchor="start">1.0</text>
<text class="tk" transform="translate(149.3 627.4) scale(1.000 1.100)" text-anchor="end">1.2</text>
<text class="tk" transform="translate(1694.6 627.4) scale(1.000 1.100)" text-anchor="start">1.2</text>
<text class="tk" transform="translate(149.3 519.5) scale(1.000 1.100)" text-anchor="end">1.4</text>
<text class="tk" transform="translate(1694.6 519.5) scale(1.000 1.100)" text-anchor="start">1.4</text>
<text class="tk" transform="translate(149.3 411.6) scale(1.000 1.100)" text-anchor="end">1.6</text>
<text class="tk" transform="translate(1694.6 411.6) scale(1.000 1.100)" text-anchor="start">1.6</text>
<text class="tk" transform="translate(149.3 303.8) scale(1.000 1.100)" text-anchor="end">1.8</text>
<text class="tk" transform="translate(1694.6 303.8) scale(1.000 1.100)" text-anchor="start">1.8</text>
<text class="tk" transform="translate(149.3 194.6) scale(1.000 1.100)" text-anchor="end">2.0</text>
<text class="tk" transform="translate(1694.6 194.6) scale(1.000 1.100)" text-anchor="start">2.0</text>
<text class="tk" transform="translate(431.9 1334.8) scale(1.010 1.100)" text-anchor="middle">400</text>
<text class="tk" transform="translate(738.3 1334.8) scale(1.010 1.100)" text-anchor="middle">500</text>
<text class="tk" transform="translate(1044.7 1334.8) scale(1.010 1.100)" text-anchor="middle">600</text>
<text class="tk" transform="translate(1351.1 1334.8) scale(1.010 1.100)" text-anchor="middle">700</text>
<text class="tk" transform="translate(1657.5 1334.8) scale(1.010 1.100)" text-anchor="middle">800</text>
<text class="tk" transform="translate(228.2 132.0) scale(0.990 1.100)" text-anchor="middle">30000</text>
<text class="tk" transform="translate(432.4 132.0) scale(0.990 1.100)" text-anchor="middle">25000</text>
<text class="tk" transform="translate(738.8 132.0) scale(0.990 1.100)" text-anchor="middle">20000</text>
<text class="tk" transform="translate(1249.5 132.0) scale(0.990 1.100)" text-anchor="middle">15000</text>
</g>
<text class="ti" y="60.8"><tspan x="667">wavenumber</tspan> <tspan class="sf" x="1018" y="61" style="font-size:61px">ν</tspan><tspan class="sf" x="1025.5" y="56.5" style="font-size:44px">˜</tspan> <tspan x="1062.5" y="60.8">[cm</tspan><tspan x="1156" y="36.5" style="font-size:37px">-</tspan><tspan x="1171.3" y="36.5" style="font-size:37px">1</tspan><tspan x="1191.7" y="60.8">]</tspan></text>
<text class="ti" x="688" y="1408.4">wavelength <tspan class="sf">λ</tspan> [nm]</text>
<text class="ti" transform="translate(59.8 675.3) rotate(-90)" text-anchor="middle">absorbance</text>
<g stroke="#000" fill="none"><line x1="1399" y1="204.4" x2="1636.5" y2="204.4" stroke-width="2.7"/><line x1="1635.3" y1="204.4" x2="1635.3" y2="833" stroke-width="2.2"/></g>
<text class="lg" transform="translate(1426.3 254.7) scale(1.12 0.98)" style="font-size:35px;stroke:#800080;stroke-width:1px">pH</text>
<line x1="1424.3" y1="290.0" x2="1513.6" y2="290.0" stroke="#f4eaf4" stroke-width="5"/>
<text class="lg" transform="translate(1521.3 301.3) scale(1.000 1.040)" text-anchor="start">7</text>
<line x1="1424.3" y1="334.5" x2="1513.6" y2="334.5" stroke="#ead4ea" stroke-width="5"/>
<text class="lg" transform="translate(1521.3 347.7) scale(1.000 1.040)" text-anchor="start">8.69</text>
<line x1="1424.3" y1="380.5" x2="1513.6" y2="380.5" stroke="#dfbfdf" stroke-width="5"/>
<text class="lg" transform="translate(1521.3 393.9) scale(1.000 1.040)" text-anchor="start">9.17</text>
<line x1="1424.3" y1="426.8" x2="1513.6" y2="426.8" stroke="#d5aad5" stroke-width="5"/>
<text class="lg" transform="translate(1521.3 440.8) scale(1.000 1.040)" text-anchor="start">9.47</text>
<line x1="1424.3" y1="473.2" x2="1513.6" y2="473.2" stroke="#ca95ca" stroke-width="5"/>
<text class="lg" transform="translate(1521.3 484.6) scale(1.000 1.040)" text-anchor="start">9.70</text>
<line x1="1424.3" y1="519.0" x2="1513.6" y2="519.0" stroke="#c080c0" stroke-width="5"/>
<text class="lg" transform="translate(1521.3 530.8) scale(1.000 1.040)" text-anchor="start">10.00</text>
<line x1="1424.3" y1="563.4" x2="1513.6" y2="563.4" stroke="#b56ab5" stroke-width="5"/>
<text class="lg" transform="translate(1521.3 577.0) scale(1.000 1.040)" text-anchor="start">10.30</text>
<line x1="1424.3" y1="609.8" x2="1513.6" y2="609.8" stroke="#aa55aa" stroke-width="5"/>
<text class="lg" transform="translate(1521.3 623.2) scale(1.000 1.040)" text-anchor="start">10.47</text>
<line x1="1424.3" y1="655.8" x2="1513.6" y2="655.8" stroke="#a040a0" stroke-width="5"/>
<text class="lg" transform="translate(1521.3 669.0) scale(1.000 1.040)" text-anchor="start">10.60</text>
<line x1="1424.3" y1="701.8" x2="1513.6" y2="701.8" stroke="#952a95" stroke-width="5"/>
<text class="lg" transform="translate(1521.3 714.6) scale(1.000 1.040)" text-anchor="start">10.69</text>
<line x1="1424.3" y1="748.0" x2="1513.6" y2="748.0" stroke="#8b158b" stroke-width="5"/>
<text class="lg" transform="translate(1521.3 759.6) scale(1.000 1.040)" text-anchor="start">11.17</text>
<line x1="1424.3" y1="792.2" x2="1513.6" y2="792.2" stroke="#800080" stroke-width="5"/>
<text class="lg" transform="translate(1521.3 805.6) scale(1.000 1.040)" text-anchor="start">11.47</text>
</svg></body></html>
